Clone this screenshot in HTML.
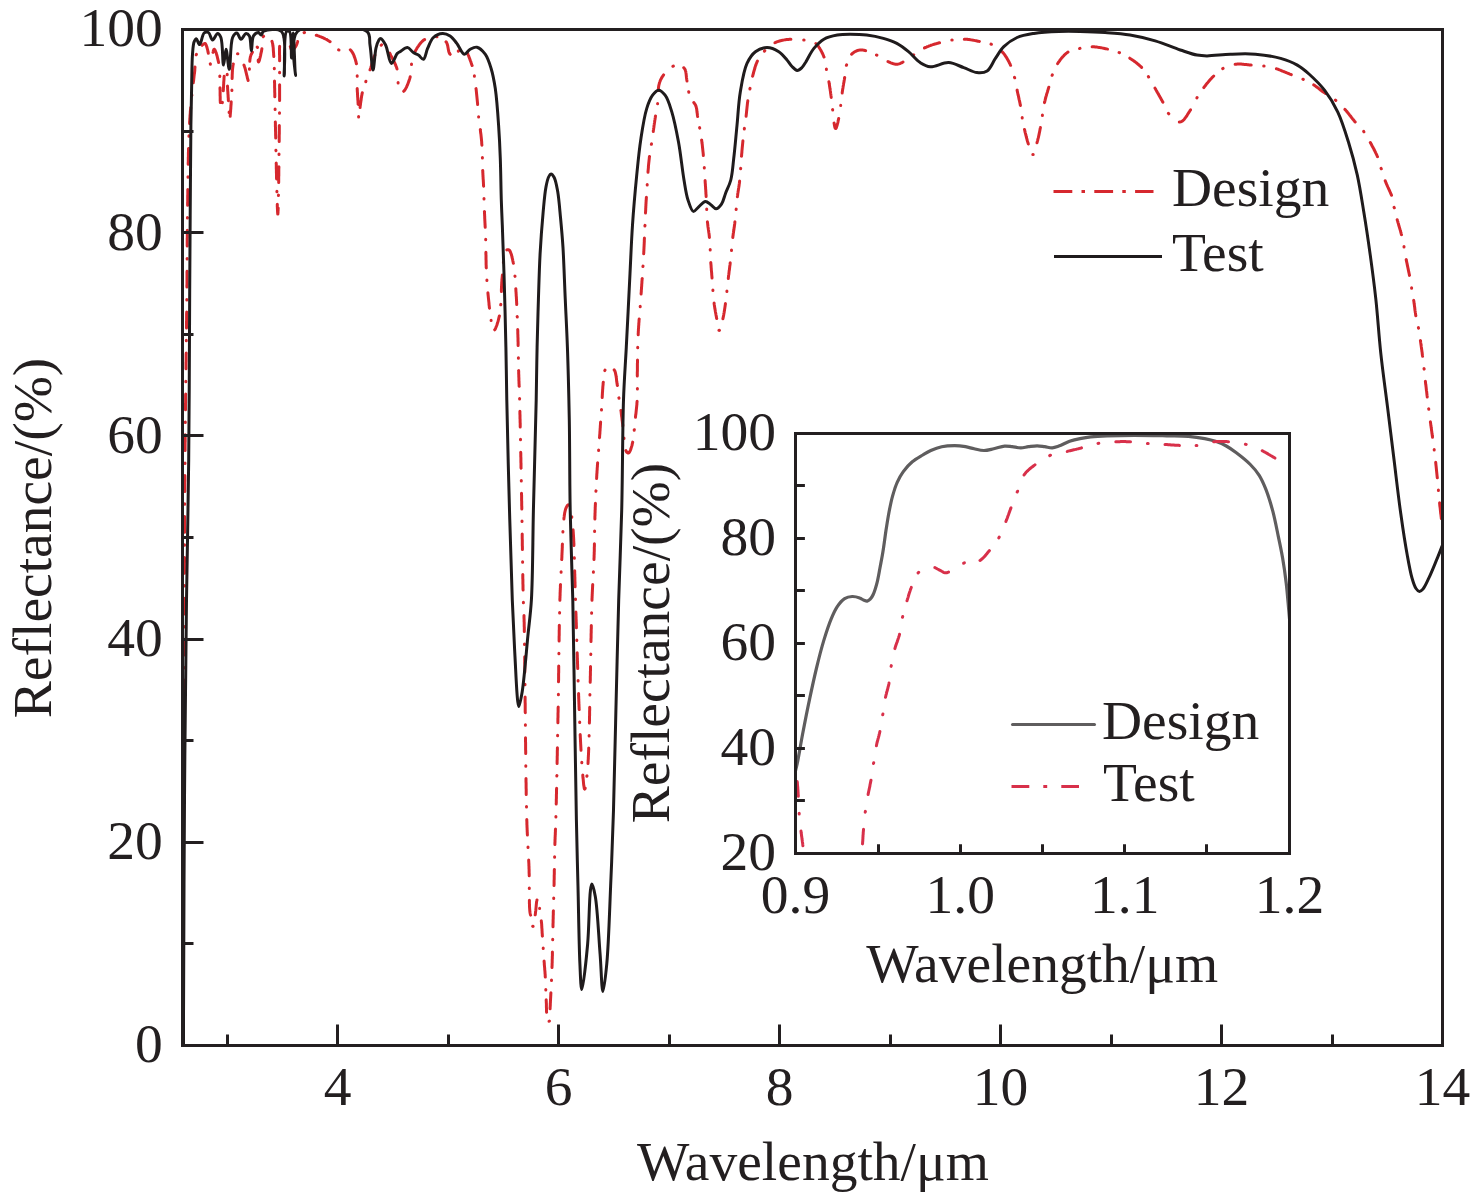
<!DOCTYPE html><html><head><meta charset="utf-8"><style>html,body{margin:0;padding:0;background:#fff;overflow:hidden}svg{display:block}</style></head><body>
<svg width="1476" height="1197" viewBox="0 0 1476 1197">
<rect width="1476" height="1197" fill="#fff"/>
<defs><clipPath id="cm"><rect x="182.5" y="29.5" width="1260" height="1016"/></clipPath>
<clipPath id="ci"><rect x="795.5" y="433.5" width="494" height="420"/></clipPath></defs>
<g clip-path="url(#cm)" fill="none" stroke-linejoin="round" stroke-linecap="round">
<path d="M183.0 1036.0 183.0 1035.9 183.0 1035.6 183.0 1035.5M183.1 1023.1 183.1 1022.8 183.1 1022.1 183.1 1021.4 183.1 1020.7 183.1 1019.9 183.1 1019.2 183.1 1018.5 183.1 1017.7 183.1 1017.0 183.1 1016.2 183.1 1015.5 183.1 1014.7 183.1 1013.9 183.1 1013.2 183.1 1012.4 183.1 1011.6 183.1 1010.8 183.1 1010.0 183.1 1009.2 183.1 1008.4 183.1 1007.6 183.1 1007.3M183.1 995.1 183.1 995.0 183.1 994.6M183.2 982.2 183.2 981.9 183.2 981.0 183.2 980.0 183.2 979.1 183.2 978.1 183.2 977.2 183.2 976.2 183.2 975.3 183.2 974.3 183.2 973.4 183.2 972.4 183.2 971.4 183.2 970.5 183.2 969.5 183.2 968.5 183.2 967.5 183.2 966.5 183.2 966.4M183.2 954.2 183.2 953.9 183.2 953.7M183.3 941.3 183.3 940.9 183.3 939.8 183.3 938.7 183.3 937.7 183.3 936.6 183.3 935.5 183.3 934.5 183.3 933.4 183.3 932.3 183.3 931.2 183.3 930.1 183.3 929.1 183.3 928.0 183.3 926.9 183.3 925.8 183.3 925.5M183.4 913.3 183.4 913.1 183.4 912.8M183.4 900.4 183.4 900.1 183.4 899.0 183.4 897.9 183.4 896.7 183.4 895.6 183.4 894.4 183.4 893.3 183.4 892.2 183.4 891.0 183.4 889.9 183.4 888.7 183.4 887.6 183.4 886.4 183.4 885.3 183.4 884.6M183.5 872.4 183.5 872.0 183.5 871.9M183.5 859.5 183.5 859.2 183.5 858.0 183.5 856.8 183.5 855.7 183.5 854.5 183.5 853.3 183.5 852.2 183.5 851.0 183.5 849.8 183.5 848.7 183.5 847.5 183.5 846.3 183.6 845.2 183.6 844.0 183.6 843.7M183.6 831.5 183.6 831.1 183.6 831.0M183.6 818.6 183.6 818.3 183.6 817.1 183.6 816.0 183.6 814.8 183.6 813.7 183.6 812.5 183.6 811.3 183.7 810.2 183.7 809.0 183.7 807.9 183.7 806.7 183.7 805.6 183.7 804.4 183.7 803.3 183.7 802.8M183.7 790.6 183.7 790.1M183.7 777.7 183.7 777.7 183.8 776.5 183.8 775.4 183.8 774.3 183.8 773.2 183.8 772.1 183.8 771.0 183.8 769.9 183.8 768.8 183.8 767.6 183.8 766.5 183.8 765.4 183.8 764.3 183.8 763.2 183.8 762.1 183.8 761.9M183.8 749.7 183.8 749.7 183.8 749.2M183.9 736.8 183.9 736.6 183.9 735.5 183.9 734.5 183.9 733.5 183.9 732.4 183.9 731.4 183.9 730.4 183.9 729.4 183.9 728.4 183.9 727.4 183.9 726.4 183.9 725.4 183.9 724.4 183.9 723.4 183.9 722.4 183.9 721.4 183.9 721.0M184.0 708.8 184.0 708.8 184.0 708.3M184.0 695.9 184.0 695.7 184.0 694.6 184.0 693.5 184.0 692.4 184.0 691.3 184.0 690.2 184.0 689.2 184.0 688.1 184.0 687.0 184.0 685.9 184.1 684.8 184.1 683.8 184.1 682.7 184.1 681.6 184.1 680.5 184.1 680.1M184.1 667.9 184.1 667.7 184.1 667.4M184.1 655.0 184.1 655.0 184.2 653.9 184.2 652.9 184.2 651.8 184.2 650.8 184.2 649.7 184.2 648.7 184.2 647.6 184.2 646.6 184.2 645.5 184.2 644.5 184.2 643.4 184.2 642.4 184.2 641.3 184.2 640.3 184.2 639.2M184.2 627.0 184.2 626.8 184.2 626.5M184.3 614.1 184.3 613.9 184.3 612.9 184.3 611.8 184.3 610.8 184.3 609.8 184.3 608.8 184.3 607.7 184.3 606.7 184.3 605.7 184.3 604.7 184.3 603.7 184.3 602.7 184.3 601.6 184.3 600.6 184.3 599.6 184.3 598.6 184.3 598.3M184.4 586.1 184.4 586.0 184.4 585.6M184.4 573.2 184.4 573.0 184.4 572.0 184.4 571.0 184.4 570.0 184.4 569.0 184.4 568.0 184.4 567.0 184.4 566.0 184.4 565.0 184.4 564.0 184.4 563.0 184.5 562.1 184.5 561.1 184.5 560.1 184.5 559.1 184.5 558.1 184.5 557.4M184.5 545.2 184.5 544.9 184.5 544.7M184.6 532.3 184.6 532.3 184.6 531.3 184.6 530.3 184.6 529.4 184.6 528.4 184.6 527.5 184.6 526.5 184.6 525.5 184.6 524.6 184.6 523.6 184.6 522.7 184.6 521.7 184.6 520.7 184.6 519.8 184.6 518.8 184.6 517.9 184.6 516.9 184.6 516.5M184.7 504.3 184.7 504.1 184.7 503.8M184.8 491.4 184.8 491.4 184.8 490.5 184.8 489.5 184.8 488.6 184.8 487.7 184.8 486.7 184.8 485.8 184.8 484.9 184.8 483.9 184.8 483.0 184.8 482.1 184.9 481.2 184.9 480.2 184.9 479.3 184.9 478.4 184.9 477.5 184.9 476.5 184.9 475.6M185.0 463.5 185.0 463.2 185.0 463.0M185.1 450.6 185.1 450.2 185.1 449.2 185.1 448.1 185.1 447.0 185.1 445.9 185.1 444.8 185.1 443.7 185.1 442.7 185.2 441.6 185.2 440.5 185.2 439.4 185.2 438.3 185.2 437.2 185.2 436.1 185.2 435.1 185.2 434.8M185.3 422.6 185.3 422.1 185.3 422.1M185.5 409.7 185.5 409.2 185.5 408.1 185.5 407.0 185.5 406.0 185.5 404.9 185.5 403.8 185.6 402.7 185.6 401.7 185.6 400.6 185.6 399.6 185.6 398.5 185.6 397.4 185.6 396.4 185.6 395.3 185.7 394.2 185.7 393.9M185.8 381.7 185.8 381.6 185.8 381.2M186.0 368.8 186.0 368.7 186.0 367.7 186.0 366.6 186.0 365.6 186.0 364.6 186.0 363.6 186.0 362.6 186.1 361.6 186.1 360.6 186.1 359.5 186.1 358.5 186.1 357.5 186.1 356.5 186.1 355.5 186.1 354.5 186.2 353.5 186.2 353.0M186.3 340.8 186.3 340.7 186.3 340.3 186.3 340.3M186.5 327.9 186.5 327.4 186.5 326.5 186.5 325.6 186.5 324.6 186.5 323.7 186.5 322.8 186.5 321.9 186.6 320.9 186.6 320.0 186.6 319.1 186.6 318.2 186.6 317.3 186.6 316.4 186.6 315.5 186.6 314.6 186.6 313.7 186.7 312.8 186.7 312.1M186.8 299.9 186.8 299.8 186.8 299.4 186.8 299.4M186.9 287.0 186.9 286.5 186.9 285.3 187.0 284.2 187.0 283.0 187.0 281.9 187.0 280.8 187.0 279.7 187.0 278.6 187.0 277.5 187.0 276.4 187.0 275.4 187.0 274.3 187.0 273.2 187.0 272.2 187.1 271.2M187.1 259.0 187.1 258.7 187.1 258.5M187.2 246.1 187.2 245.9 187.2 245.0 187.2 244.1 187.2 243.1 187.2 242.2 187.2 241.3 187.2 240.4 187.2 239.4 187.2 238.5 187.3 237.6 187.3 236.6 187.3 235.7 187.3 234.8 187.3 233.8 187.3 232.9 187.3 232.0 187.3 231.0 187.3 230.3M187.4 218.1 187.4 218.0 187.5 217.6M187.6 205.2 187.6 205.0 187.6 204.0 187.6 203.0 187.7 202.0 187.7 200.9 187.7 199.9 187.7 198.8 187.7 197.8 187.7 196.7 187.7 195.7 187.8 194.6 187.8 193.6 187.8 192.5 187.8 191.5 187.8 190.4 187.8 189.4M188.0 177.2 188.0 177.0 188.0 176.7M188.2 164.3 188.2 163.8 188.2 162.8 188.3 161.8 188.3 160.7 188.3 159.7 188.3 158.7 188.3 157.7 188.4 156.7 188.4 155.6 188.4 154.6 188.4 153.7 188.4 152.7 188.5 151.7 188.5 150.7 188.5 149.7 188.5 148.8 188.6 148.5M188.9 136.3 188.9 136.1 189.0 135.8M189.6 123.4 189.6 123.1 189.6 122.0 189.7 120.9 189.8 119.9 189.8 118.8 189.9 117.8 190.0 116.8 190.0 115.8 190.1 114.8 190.2 113.8 190.3 112.9 190.3 111.9 190.4 111.0 190.5 110.0 190.6 109.1 190.7 108.2 190.7 107.6M191.8 95.5 191.9 95.2 191.9 95.0M193.3 82.7 193.3 82.6 193.4 81.6 193.6 80.6 193.7 79.7 193.8 78.7 193.9 77.8 194.0 76.8 194.1 75.9 194.2 75.0 194.3 74.1 194.5 73.1 194.6 72.2 194.7 71.3 194.8 70.2 194.8 69.1 194.9 68.0 195.0 67.0M196.2 54.8 196.3 54.6 196.4 54.4M202.1 45.3 202.2 45.2 202.9 44.6 203.8 43.9 204.6 43.4 205.2 43.5 205.5 43.9 205.9 44.5 206.2 45.2 206.6 46.2 206.9 47.2 207.2 48.3 207.5 49.5 207.8 50.7 208.0 51.9 208.3 53.1 208.3 53.2M210.3 63.8 210.4 64.0 210.4 64.3M213.0 52.4 213.1 52.1 213.3 51.0 213.6 50.1 213.9 49.4 214.2 49.2 214.4 49.3 214.7 49.6 215.0 50.1 215.3 50.8 215.7 51.7 216.0 52.6 216.4 53.7 216.7 54.8 217.1 56.0 217.4 57.3 217.7 58.6 218.0 59.8 218.3 61.1 218.6 62.3 218.6 62.4M219.8 75.9 219.8 76.1 219.8 76.4M220.0 87.8 220.0 88.0 220.0 89.1 220.1 90.2 220.1 91.3 220.1 92.4 220.1 93.4 220.1 94.5 220.1 95.6 220.2 96.6 220.2 97.6 220.2 98.6 220.2 99.6 220.2 100.5 220.3 101.4 220.3 102.2 220.3 102.4M222.3 102.7 222.4 102.4 222.4 102.2M223.3 90.8 223.3 90.6 223.4 89.5 223.4 88.4 223.5 87.3 223.6 86.1 223.6 84.9 223.7 83.8 223.7 82.6 223.8 81.5 223.9 80.3 224.0 79.2 224.0 78.2 224.1 77.2 224.2 76.2 224.2 76.2M227.2 74.2 227.2 74.2 227.2 74.7M227.5 86.1 227.5 86.4 227.6 87.5 227.6 88.5 227.7 89.4 227.7 90.4 227.8 91.4 227.9 92.4 227.9 93.4 228.0 94.4 228.1 95.5 228.1 96.5 228.2 97.6 228.3 98.6 228.3 99.7 228.4 100.7M229.1 111.9 229.1 112.4M230.2 116.3 230.2 115.7 230.3 114.5 230.4 113.2 230.5 112.0 230.6 111.2 230.6 110.4 230.7 109.6 230.8 108.7 230.8 107.8 230.9 106.9 230.9 106.0 231.0 105.0 231.1 104.0 231.1 103.0 231.2 102.0 231.2 101.7M231.9 90.5 231.9 90.1 231.9 90.0M232.1 78.6 232.1 78.1 232.2 77.0 232.2 76.0 232.2 74.9 232.3 73.8 232.3 72.8 232.4 71.8 232.4 70.8 232.5 69.8 232.6 68.8 232.7 67.9 232.8 67.0 232.9 66.1 233.0 65.3 233.2 64.5 233.3 64.0M237.5 53.8 237.5 53.8 237.7 53.8 237.9 53.8 237.9 53.8M243.9 64.9 243.9 65.0 244.3 66.0 244.6 66.9 245.0 68.0 245.3 69.1 245.6 70.3 245.9 71.6 246.2 72.8 246.5 74.1 246.8 75.3 247.1 76.4 247.3 77.5 247.5 78.5 247.8 79.3 248.0 80.0 248.1 80.5M249.4 69.2 249.4 69.0 249.4 68.8M249.8 61.3 249.8 61.0 249.9 60.0 250.0 59.0 250.2 58.1 250.3 57.1 250.6 56.2 250.8 55.4 251.2 54.5 251.7 53.5 252.3 52.5 252.4 52.2M257.1 47.1 257.2 47.1 257.3 47.2 257.5 47.4 257.5 47.4M258.2 59.9 258.2 60.0 258.2 60.9 258.3 61.6 258.4 61.9 258.6 62.0 258.8 61.7 259.0 61.3 259.2 60.7 259.5 59.9 259.7 58.9 260.0 57.9 260.3 56.7 260.6 55.5 260.8 54.2 261.1 52.9 261.4 51.7 261.6 50.4 261.8 49.3 261.9 48.8M263.2 36.6 263.4 36.4 263.6 36.2M272.0 41.4 272.1 41.6 272.3 42.3 272.5 43.2 272.7 44.0 272.8 45.0 272.9 45.9 273.1 46.9 273.2 47.9 273.3 48.9 273.3 49.9 273.4 51.0 273.5 52.1 273.6 53.2 273.6 54.2 273.7 55.3 273.8 56.4 273.8 56.5M274.3 68.3 274.3 68.5 274.3 68.8M274.5 81.1 274.5 81.4 274.5 82.3 274.6 83.2 274.6 84.1 274.6 84.9 274.6 85.8 274.6 86.7 274.6 87.6 274.7 88.5 274.7 89.4 274.7 90.3 274.7 91.2 274.7 92.1 274.8 93.0 274.8 93.9 274.8 94.9 274.8 95.8 274.8 96.7 274.8 96.8M275.1 109.0 275.1 109.3 275.1 109.5M275.3 122.0 275.3 122.0 275.4 122.9 275.4 123.8 275.4 124.7 275.4 125.7 275.4 126.6 275.5 127.6 275.5 128.6 275.5 129.7 275.5 130.8 275.6 131.8 275.6 132.9 275.6 134.1 275.6 135.2 275.7 136.4 275.7 137.5 275.7 137.9M275.9 150.2 276.0 150.7M276.2 163.1 276.2 163.3 276.3 164.6 276.3 166.0 276.3 167.3 276.3 168.6 276.4 170.0 276.4 171.3 276.4 172.6 276.5 173.9 276.5 175.2 276.5 176.5 276.5 177.8 276.6 179.0M276.9 191.3 276.9 191.8 276.9 191.8M277.3 204.3 277.3 204.6 277.3 205.4 277.3 206.1 277.3 206.9 277.4 207.6 277.4 208.3 277.4 208.9 277.5 209.5 277.5 210.1 277.5 210.6 277.5 211.1 277.6 211.6 277.6 212.0 277.6 212.4 277.6 212.7 277.7 213.1 277.7 213.3 277.7 213.5 277.7 213.7 277.7 213.9 277.8 213.9 277.8 214.0 277.8 214.0 277.8 213.9 277.9 213.9 277.9 213.7 277.9 213.5 277.9 213.3 277.9 213.0 278.0 212.7 278.0 212.4 278.0 212.0 278.0 211.6 278.0 211.1 278.1 210.6 278.1 210.0 278.1 209.5 278.1 208.9 278.2 208.2 278.2 207.9M278.4 195.6 278.4 195.5 278.5 195.1M278.7 182.6 278.7 182.1 278.7 180.8 278.7 179.5 278.7 178.2 278.7 177.0 278.8 175.7 278.8 174.3 278.8 173.0 278.8 171.7 278.8 170.4 278.8 169.1 278.9 167.7 278.9 166.7M279.0 154.4 279.0 154.4 279.0 153.9M279.2 141.5 279.2 140.9 279.2 139.7 279.2 138.5 279.2 137.3 279.2 136.1 279.2 135.0 279.3 133.9 279.3 132.8 279.3 131.7 279.3 130.6 279.3 129.5 279.3 128.5 279.3 127.5 279.3 126.5 279.3 125.6 279.3 125.6M279.5 113.3 279.5 113.0 279.5 112.8M279.6 100.5 279.6 100.2 279.6 99.3 279.6 98.4 279.6 97.4 279.6 96.5 279.6 95.6 279.6 94.7 279.6 93.8 279.6 92.9 279.6 92.0 279.6 91.1 279.6 90.2 279.6 89.3 279.6 88.4 279.6 87.5 279.6 86.6 279.6 85.8 279.6 84.9 279.6 84.8M279.6 72.8 279.6 72.5 279.6 72.3M279.6 60.8 279.6 60.6 279.6 59.7 279.6 58.6 279.6 57.5 279.6 56.4 279.6 55.3 279.5 54.3 279.5 53.2 279.5 52.2 279.5 51.1 279.5 50.1 279.5 49.2 279.5 48.2 279.6 47.3 279.6 46.4 279.6 46.2M284.1 37.1 284.1 37.1 284.6 37.2 284.6 37.2M290.3 46.6 290.4 46.9 290.7 47.9 291.0 48.8 291.4 49.5 291.8 49.9 292.3 50.0 293.0 49.7 293.7 49.1 294.4 48.3 295.1 47.4 295.7 46.4 296.2 45.6 296.6 44.8 296.9 44.0 297.2 43.0 297.5 42.1 297.6 41.5M304.1 32.7 304.3 32.6 304.5 32.5M316.2 35.2 316.4 35.2 317.3 35.5 318.2 35.9 319.1 36.2 320.0 36.6 321.0 36.9 321.9 37.3 322.8 37.7 323.7 38.1 324.7 38.6 325.5 39.0 326.4 39.4 327.3 39.9 328.1 40.4 328.9 40.9 329.7 41.4 330.1 41.7M338.6 49.9 338.8 50.0 339.0 50.0M350.3 49.8 350.5 50.0 351.0 50.5 351.5 51.1 352.0 51.8 352.5 52.6 352.9 53.4 353.4 54.2 353.8 55.1 354.1 56.1 354.5 57.1 354.9 58.1 355.2 59.1 355.5 60.2 355.8 61.3 356.1 62.3 356.3 63.4 356.4 63.8M357.2 75.7 357.2 75.9 357.2 76.2M357.2 88.6 357.2 89.0 357.3 90.1 357.3 91.2 357.4 92.2 357.5 93.3 357.5 94.3 357.6 95.4 357.6 96.4 357.7 97.4 357.8 98.4 357.8 99.4 357.9 100.4 358.0 101.4 358.0 102.3 358.1 103.3 358.1 104.2 358.2 104.3M358.6 116.5 358.6 116.8 358.6 117.0M360.1 107.4 360.1 107.3 360.2 106.1 360.4 105.0 360.5 104.0 360.6 103.0 360.8 102.0 360.9 101.0 361.1 100.1 361.2 99.1 361.3 98.1 361.5 97.2 361.6 96.2 361.8 95.3 362.0 94.3 362.2 93.4 362.3 92.7M365.8 81.7 365.8 81.5 365.9 81.2M370.0 69.8 370.2 69.4 370.5 68.5 370.8 67.6 371.1 66.6 371.4 65.7 371.7 64.7 372.0 63.8 372.2 62.8 372.5 61.9 372.8 60.9 373.1 60.0 373.4 59.0 373.7 58.1 374.1 57.2 374.4 56.3 374.8 55.4 374.9 55.2M381.2 45.2 381.4 45.0 381.6 44.8M389.7 53.2 389.9 53.5 390.4 54.5 390.8 55.4 391.3 56.3 391.7 57.1 392.2 58.0 392.7 58.9 393.1 59.8 393.6 60.7 394.0 61.7 394.5 62.6 394.9 63.5 395.4 64.5 395.7 65.4 396.1 66.3 396.5 67.3 396.8 68.2 397.0 69.0M398.1 82.5 398.1 82.7 398.1 82.9M403.7 91.3 404.0 91.0 404.4 90.6 404.8 90.0 405.3 89.4 405.7 88.6 406.1 87.8 406.6 86.9 407.0 85.9 407.5 84.9 407.9 83.8 408.3 82.7 408.7 81.6 409.1 80.6 409.4 79.5 409.8 78.4 410.1 77.4 410.2 76.8M411.5 64.5 411.5 64.3 411.5 64.1M414.9 51.9 415.0 51.7 415.4 50.9 415.9 50.0 416.4 49.2 416.9 48.3 417.4 47.5 418.0 46.6 418.6 45.8 419.2 44.9 419.8 44.1 420.5 43.3 421.1 42.5 421.8 41.8 422.5 41.1 423.2 40.5 423.9 39.9 424.6 39.4 424.7 39.4M436.6 36.7 436.8 36.7 437.0 36.7M446.0 41.8 446.3 42.0 446.7 42.8 447.1 43.8 447.4 44.8 447.7 45.8 447.9 47.0 448.1 48.1 448.3 49.2 448.5 50.3 448.7 51.3 449.0 52.2 449.3 53.0 449.7 53.7 450.1 54.2 450.2 54.3M458.3 51.1 458.5 50.9 458.7 50.8M467.2 52.8 467.2 52.8 467.7 53.8 468.1 54.8 468.6 55.8 469.0 56.9 469.4 58.0 469.8 59.1 470.2 60.2 470.6 61.3 471.0 62.3 471.3 63.3 471.6 64.2 471.9 65.1 472.1 65.5M474.4 75.8 474.4 76.0 474.4 76.2M476.0 88.6 476.1 89.0 476.2 89.9 476.3 90.9 476.4 91.8 476.5 92.8 476.6 93.8 476.7 94.8 476.8 95.9 476.9 96.9 477.0 97.9 477.1 98.9 477.2 99.9 477.3 100.9 477.4 101.9 477.5 102.9 477.6 103.8 477.6 104.4M478.6 116.7 478.6 116.9 478.6 117.1M480.3 129.4 480.3 129.5 480.4 130.4 480.5 131.3 480.6 132.3 480.7 133.2 480.9 134.1 481.0 135.1 481.1 136.1 481.2 137.0 481.3 138.0 481.4 139.0 481.5 140.0 481.6 141.1 481.7 142.1 481.7 143.2 481.8 144.2 481.9 145.2M482.4 157.4 482.4 157.6 482.4 157.9M482.7 170.4 482.7 170.4 482.8 171.5 482.8 172.5 482.9 173.6 482.9 174.6 483.0 175.5 483.0 176.5 483.1 177.4 483.1 178.4 483.2 179.3 483.3 180.3 483.3 181.2 483.4 182.2 483.4 183.2 483.5 184.2 483.5 185.2 483.6 186.2M484.0 198.5 484.0 198.8 484.0 199.0M484.4 211.4 484.4 211.5 484.5 212.4 484.5 213.4 484.6 214.4 484.6 215.3 484.7 216.3 484.7 217.3 484.7 218.2 484.8 219.2 484.8 220.2 484.9 221.1 484.9 222.1 485.0 223.1 485.0 224.0 485.1 225.0 485.1 226.0 485.2 227.0 485.2 227.2M485.7 239.3 485.7 239.6 485.7 239.8M485.9 252.2 485.9 252.3 485.9 253.4 485.9 254.4 486.0 255.4 486.0 256.4 486.0 257.4 486.0 258.5 486.0 259.5 486.1 260.5 486.1 261.5 486.1 262.5 486.1 263.6 486.1 264.6 486.2 265.6 486.2 266.6 486.2 267.6 486.3 267.9M486.9 280.0 486.9 280.3 486.9 280.5M487.9 292.7 487.9 292.9 488.0 293.9 488.1 294.9 488.2 295.9 488.3 296.9 488.4 297.8 488.5 298.8 488.6 299.7 488.7 300.6 488.8 301.6 488.9 302.4 489.0 303.3 489.0 304.2 489.1 305.0 489.2 305.8 489.3 306.6 489.4 307.8 489.5 308.2M491.1 320.2 491.1 320.4 491.1 320.6M494.7 329.8 494.8 329.7 495.2 329.1 495.5 328.4 495.9 327.5 496.3 326.5 496.7 325.5 497.1 324.4 497.4 323.2 497.8 322.0 498.2 320.7 498.5 319.5 498.8 318.2 499.1 317.0 499.4 316.0M500.7 304.8 500.8 304.6 500.8 304.3M501.4 291.5 501.4 291.3 501.4 290.2 501.4 289.2 501.5 288.1 501.5 287.0 501.6 286.0 501.6 285.0 501.7 283.9 501.7 282.9 501.8 281.9 501.9 280.9 501.9 280.0 502.0 279.0 502.1 278.1 502.2 277.2 502.3 276.1 502.4 275.1M503.4 262.4 503.4 262.4 503.4 261.9M506.8 249.9 507.2 249.8 508.1 249.7 509.0 250.0 509.4 250.3 509.8 250.8 510.2 251.4 510.5 252.2 510.8 253.0 511.2 254.0 511.5 255.0 511.8 256.1 512.0 257.2 512.3 258.4 512.6 259.6 512.8 260.8 513.1 261.9 513.3 262.9 513.4 263.3M514.9 275.9 514.9 276.1 515.0 276.4M515.8 288.7 515.8 288.7 515.9 289.8 515.9 290.8 516.0 291.9 516.1 292.8 516.1 293.7 516.2 294.7 516.2 295.6 516.3 296.5 516.4 297.5 516.4 298.4 516.5 299.4 516.5 300.4 516.6 301.3 516.6 302.3 516.7 303.3 516.7 304.3 516.7 304.4M517.2 316.6 517.3 316.8 517.3 317.1M517.7 329.5 517.7 329.9 517.8 330.9 517.8 331.9 517.8 332.9 517.8 333.9 517.9 334.9 517.9 335.9 517.9 336.9 518.0 338.0 518.0 339.0 518.0 340.0 518.0 341.0 518.1 342.0 518.1 343.1 518.1 344.1 518.1 345.1 518.1 345.4M518.4 357.7 518.4 357.9 518.4 358.2M518.6 370.6 518.7 371.0 518.7 371.9 518.7 372.8 518.7 373.9 518.8 374.9 518.8 375.9 518.8 376.9 518.9 377.9 518.9 378.8 518.9 379.7 518.9 380.6 519.0 381.5 519.0 382.4 519.0 383.3 519.1 384.2 519.1 385.1 519.1 386.0 519.2 386.3M519.6 398.5 519.6 398.7 519.6 399.0M519.9 411.3 519.9 411.4 519.9 412.2 519.9 413.1 519.9 414.0 520.0 414.9 520.0 415.8 520.0 416.7 520.0 417.6 520.0 418.5 520.1 419.4 520.1 420.4 520.1 421.3 520.1 422.3 520.2 423.2 520.2 424.2 520.2 425.2 520.2 426.2 520.2 427.1M520.5 439.2 520.5 439.4 520.5 439.7M520.7 452.2 520.7 452.3 520.8 453.4 520.8 454.5 520.8 455.6 520.8 456.7 520.9 457.8 520.9 458.9 520.9 460.0 520.9 461.1 520.9 462.2 521.0 463.3 521.0 464.4 521.0 465.5 521.0 466.6 521.0 467.7 521.1 468.2M521.3 480.5 521.3 480.8 521.3 481.0M521.5 493.3 521.5 493.3 521.5 494.3 521.6 495.3 521.6 496.3 521.6 497.3 521.6 498.3 521.6 499.3 521.6 500.3 521.7 501.3 521.7 502.4 521.7 503.4 521.7 504.5 521.7 505.5 521.8 506.6 521.8 507.6 521.8 508.7 521.8 509.0M522.0 521.1 522.0 521.3 522.0 521.6M522.2 533.9 522.2 534.2 522.2 535.4 522.2 536.5 522.2 537.6 522.2 538.8 522.3 539.9 522.3 541.0 522.3 542.1 522.3 543.3 522.3 544.4 522.3 545.5 522.4 546.6 522.4 547.7 522.4 548.8 522.4 549.5M522.6 561.7 522.6 561.9 522.6 562.2M522.8 574.5 522.8 574.7 522.8 575.6 522.8 576.6 522.8 577.5 522.8 578.5 522.9 579.4 522.9 580.3 522.9 581.2 522.9 582.2 522.9 583.0 522.9 583.9 523.0 584.8 523.0 585.7 523.0 586.5 523.0 587.4 523.0 588.2 523.0 589.0 523.1 589.8 523.1 590.1M523.4 602.2 523.4 602.5 523.4 602.7M524.0 615.4 524.0 615.6 524.0 616.7 524.0 617.9 524.1 619.3 524.1 620.2 524.1 620.7 524.1 621.2 524.1 621.8 524.2 622.3 524.2 622.8 524.2 623.4 524.2 624.0 524.2 624.6 524.2 625.2 524.2 625.8 524.2 626.4 524.3 627.0 524.3 627.7 524.3 628.3 524.3 629.0 524.3 629.7 524.3 630.4 524.3 631.1 524.3 631.6M524.5 644.0 524.5 644.3 524.5 644.5M524.7 656.7 524.7 657.0 524.7 658.0 524.7 659.0 524.7 660.0 524.7 661.0 524.7 662.1 524.7 663.1 524.8 664.1 524.8 665.2 524.8 666.2 524.8 667.3 524.8 668.4 524.8 669.4 524.8 670.5 524.8 671.6 524.8 672.2M525.0 684.2 525.0 684.5 525.0 684.7M525.1 697.0 525.1 697.3 525.1 698.5 525.1 699.7 525.1 700.9 525.1 702.1 525.2 703.3 525.2 704.5 525.2 705.7 525.2 706.9 525.2 708.1 525.2 709.3 525.2 710.5 525.2 711.7 525.3 712.7M525.4 724.8 525.4 725.0 525.4 725.3M525.5 737.7 525.5 737.8 525.5 739.0 525.5 740.2 525.5 741.4 525.6 742.6 525.6 743.8 525.6 745.0 525.6 746.2 525.6 747.4 525.6 748.6 525.6 749.7 525.7 750.9 525.7 752.1 525.7 753.3 525.7 753.5M525.8 765.8 525.8 766.0 525.8 766.3M526.0 778.6 526.0 778.7 526.0 779.8 526.0 780.9 526.0 781.9 526.1 783.0 526.1 784.0 526.1 785.1 526.1 786.1 526.1 787.1 526.1 788.2 526.2 789.2 526.2 790.2 526.2 791.2 526.2 792.1 526.2 793.1 526.2 794.1 526.2 794.4M526.5 806.6 526.5 806.8 526.5 807.1M526.8 819.4 526.8 819.7 526.8 820.7 526.9 822.0 526.9 823.2 526.9 824.5 527.0 825.7 527.0 826.9 527.1 828.1 527.1 829.3 527.2 830.4 527.2 831.5 527.3 832.6 527.3 833.7 527.4 834.8 527.4 835.0M528.0 847.1 528.0 847.3 528.0 847.6M528.7 860.0 528.7 860.1 528.7 861.0 528.8 862.0 528.8 862.9 528.9 863.8 528.9 864.7 528.9 865.7 529.0 866.6 529.0 867.6 529.0 868.6 529.1 869.7 529.1 870.7 529.1 871.8 529.1 872.9 529.2 874.0 529.2 875.1 529.2 875.8M529.3 888.0 529.3 888.3 529.3 888.5M529.4 900.2 529.4 900.7 529.4 901.6 529.4 902.6 529.4 903.5 529.5 904.4 529.5 905.3 529.5 906.1 529.5 906.9 529.6 907.7 529.6 908.4 529.7 909.1 529.7 909.8 529.8 910.4 529.8 911.0 529.9 911.5 530.0 912.5 530.2 913.6 530.4 914.4 530.6 915.1M532.7 926.3 532.8 926.4 532.9 926.5 533.0 926.5 533.1 926.4 533.1 926.3M535.2 914.8 535.3 914.6 535.4 913.6 535.5 912.6 535.6 911.5 535.8 910.4 535.9 909.2 536.0 908.0 536.1 906.9 536.2 905.8 536.3 904.7 536.4 903.7 536.5 902.7 536.6 901.8 536.7 901.1 536.9 900.4 537.0 899.9M539.6 908.2 539.6 908.4 539.6 908.6M541.3 920.7 541.3 920.9 541.4 921.8 541.5 922.7 541.6 923.6 541.7 924.6 541.7 925.5 541.8 926.5 541.8 927.5 541.9 928.4 542.0 929.4 542.0 930.4 542.1 931.4 542.1 932.5 542.2 933.5 542.3 934.6 542.3 935.7 542.4 936.1M543.2 948.0 543.2 948.3 543.2 948.5M544.1 961.1 544.1 961.5 544.2 962.4 544.3 963.3 544.3 964.3 544.4 965.4 544.5 966.4 544.6 967.4 544.7 968.4 544.7 969.3 544.8 970.2 544.9 971.1 545.0 972.0 545.0 973.0 545.1 973.9 545.2 974.9 545.2 976.0 545.3 977.1 545.3 977.1M545.8 989.5 545.8 989.8 545.8 990.0M546.2 999.8 546.2 999.9 546.2 1000.8 546.3 1001.7 546.3 1002.7 546.4 1003.8 546.4 1004.9 546.4 1006.0 546.4 1007.2 546.5 1008.3 546.5 1009.4 546.5 1010.4 546.5 1011.5 546.6 1012.2M549.0 1021.2 549.0 1021.3 549.2 1021.3 549.3 1021.2 549.4 1021.1 549.4 1021.1M550.1 1008.7 550.1 1008.5 550.1 1007.5 550.2 1006.8 550.2 1006.0 550.3 1005.2 550.3 1004.4 550.3 1003.5 550.4 1002.7 550.4 1001.8 550.5 1000.9 550.5 999.9 550.6 999.0 550.6 998.0 550.7 997.1 550.7 996.1 550.8 995.1 550.8 994.1 550.9 993.0 550.9 992.8M551.5 980.5 551.5 980.2 551.5 980.0M552.0 967.6 552.0 967.5 552.0 966.5 552.1 965.5 552.1 964.5 552.1 963.6 552.2 962.6 552.2 961.6 552.2 960.6 552.2 959.6 552.3 958.6 552.3 957.6 552.3 956.6 552.4 955.6 552.4 954.6 552.4 953.6 552.4 952.6 552.4 952.0M552.7 939.8 552.7 939.6 552.7 939.3M553.0 926.8 553.0 926.8 553.0 925.8 553.0 924.8 553.0 923.8 553.1 922.8 553.1 921.8 553.1 920.8 553.1 919.8 553.2 918.8 553.2 917.8 553.2 916.8 553.2 915.8 553.3 914.9 553.3 913.9 553.3 912.9 553.3 911.9 553.4 910.9 553.4 910.8M553.7 898.5 553.7 898.2 553.7 898.0M554.0 885.5 554.0 885.3 554.1 884.4 554.1 883.4 554.1 882.4 554.1 881.4 554.1 880.4 554.2 879.4 554.2 878.3 554.2 877.3 554.2 876.3 554.2 875.3 554.3 874.3 554.3 873.2 554.3 872.2 554.3 871.2 554.3 870.2 554.4 869.5M554.6 857.2 554.6 856.9 554.6 856.7M554.9 844.5 554.9 844.1 554.9 843.0 555.0 842.0 555.0 841.0 555.0 840.0 555.1 839.0 555.1 838.1 555.1 837.2 555.2 836.3 555.2 835.4 555.3 834.5 555.3 833.6 555.3 832.7 555.4 831.9 555.4 831.0 555.4 830.1 555.5 829.2 555.5 828.9M555.9 816.9 555.9 816.7 555.9 816.5M556.2 804.1 556.2 803.7 556.3 802.8 556.3 801.9 556.3 801.1 556.3 800.2 556.3 799.3 556.4 798.4 556.4 797.5 556.4 796.6 556.4 795.7 556.4 794.7 556.5 793.8 556.5 792.8 556.5 791.9 556.5 790.9 556.5 790.0 556.6 789.0 556.6 788.3M556.8 776.1 556.8 775.8 556.9 775.6M557.1 763.4 557.1 763.0 557.1 761.9 557.1 760.8 557.2 759.7 557.2 758.6 557.2 757.5 557.2 756.5 557.3 755.4 557.3 754.3 557.3 753.2 557.3 752.1 557.3 751.0 557.4 749.9 557.4 748.8 557.4 747.8M557.6 735.8 557.6 735.6 557.6 735.3M557.9 722.8 557.9 722.6 557.9 721.6 557.9 720.5 557.9 719.4 557.9 718.4 558.0 717.4 558.0 716.3 558.0 715.3 558.0 714.3 558.0 713.2 558.1 712.2 558.1 711.2 558.1 710.2 558.1 709.2 558.1 708.2 558.2 707.2 558.2 706.9M558.4 694.7 558.4 694.4 558.4 694.2M558.5 681.7 558.5 681.2 558.6 680.1 558.6 679.1 558.6 678.0 558.6 676.9 558.6 675.9 558.6 674.8 558.6 673.7 558.7 672.6 558.7 671.6 558.7 670.5 558.7 669.4 558.7 668.4 558.7 667.3 558.7 666.2 558.7 665.9M558.9 653.7 558.9 653.4 558.9 653.2M559.1 640.9 559.1 640.4 559.1 639.3 559.1 638.3 559.1 637.3 559.1 636.3 559.2 635.3 559.2 634.3 559.2 633.3 559.2 632.3 559.2 631.3 559.2 630.3 559.3 629.3 559.3 628.3 559.3 627.3 559.3 626.4 559.3 625.4 559.3 625.2M559.6 613.1 559.6 612.9 559.6 612.6M559.9 600.2 559.9 600.0 559.9 598.8 560.0 597.6 560.0 596.4 560.1 595.3 560.1 594.1 560.1 593.0 560.2 591.9 560.2 590.8 560.3 589.7 560.3 588.6 560.4 587.6 560.4 586.5 560.4 585.5 560.5 584.5 560.5 584.4M561.1 572.2 561.1 572.0 561.1 571.8M561.7 559.6 561.8 559.1 561.8 558.2 561.9 557.2 561.9 556.3 561.9 555.3 562.0 554.2 562.0 553.1 562.1 552.1 562.1 551.0 562.2 549.9 562.2 548.8 562.3 547.7 562.3 546.7 562.3 545.6 562.4 544.5 562.4 544.0M562.9 532.0 562.9 531.8 562.9 531.5M563.9 519.1 563.9 518.9 564.0 517.7 564.2 516.5 564.3 515.4 564.5 514.4 564.6 513.3 564.8 512.4 565.0 511.5 565.2 510.6 565.4 509.8 565.6 509.0 565.9 508.3 566.3 507.4 566.9 506.3 567.5 505.4 568.1 504.8 568.6 504.9 568.8 505.0M571.8 516.8 571.8 516.9 571.8 517.3M573.1 529.7 573.1 529.7 573.1 530.4 573.2 531.2 573.2 531.9 573.3 532.6 573.3 533.4 573.4 534.2 573.4 535.0 573.5 535.8 573.5 536.6 573.6 537.4 573.6 538.2 573.7 539.1 573.7 539.9 573.7 540.8 573.8 541.7 573.8 542.6 573.9 543.5 573.9 544.4 573.9 545.3 573.9 545.6M574.3 557.8 574.4 558.2 574.4 558.3M574.7 570.8 574.7 571.0 574.7 572.1 574.7 573.2 574.8 574.3 574.8 575.4 574.8 576.5 574.9 577.6 574.9 578.7 574.9 579.9 574.9 581.0 575.0 582.1 575.0 583.2 575.0 584.3 575.1 585.5 575.1 586.6 575.1 586.7M575.5 598.9 575.5 599.4M575.9 611.9 575.9 612.1 575.9 613.1 576.0 614.0 576.0 615.0 576.0 616.0 576.1 617.0 576.1 618.0 576.1 619.0 576.2 620.0 576.2 621.0 576.2 622.0 576.3 623.0 576.3 624.1 576.3 625.1 576.4 626.1 576.4 627.1 576.4 627.7M576.8 640.0 576.8 640.2 576.8 640.5M577.2 652.8 577.2 653.0 577.2 654.1 577.3 655.2 577.3 656.2 577.3 657.3 577.4 658.4 577.4 659.4 577.4 660.5 577.5 661.6 577.5 662.6 577.5 663.7 577.6 664.7 577.6 665.8 577.6 666.9 577.7 667.9 577.7 668.5M578.1 680.6 578.1 680.8 578.1 681.1M578.6 693.6 578.6 693.7 578.6 694.6 578.6 695.6 578.7 696.5 578.7 697.4 578.7 698.4 578.8 699.3 578.8 700.2 578.8 701.1 578.9 702.0 578.9 702.9 578.9 703.8 579.0 704.7 579.0 705.5 579.0 706.4 579.1 707.3 579.1 708.1 579.1 709.0 579.2 709.6M579.7 721.9 579.7 722.1 579.7 722.4M580.2 734.6 580.2 735.0 580.3 736.0 580.3 737.1 580.4 738.1 580.4 739.1 580.5 740.1 580.5 741.1 580.6 742.1 580.6 743.1 580.7 744.1 580.7 745.0 580.8 746.0 580.8 747.0 580.9 747.9 580.9 748.9 581.0 749.8 581.0 750.2M581.8 762.2 581.8 762.5 581.8 762.7M582.8 774.9 582.8 775.5 582.9 776.8 583.0 778.1 583.2 779.3 583.3 780.6 583.4 781.7 583.5 782.8 583.6 783.8 583.7 784.8 583.8 785.7 584.0 786.5 584.1 787.2 584.2 787.9 584.3 788.4 584.4 788.8 584.5 789.0 584.6 789.2 584.8 789.2 585.0 788.8 585.2 788.2M586.9 776.3 587.0 776.0 587.0 775.8M588.0 763.6 588.0 763.3 588.1 762.1 588.1 761.0 588.2 759.8 588.3 758.6 588.3 757.4 588.4 756.1 588.4 755.4 588.5 754.6 588.5 753.9 588.5 753.1 588.6 752.3 588.6 751.5 588.6 750.7 588.7 749.9 588.7 749.0 588.7 748.2 588.7 748.0M589.1 736.0 589.1 735.8 589.1 735.5M589.4 723.1 589.4 723.0 589.4 721.9 589.5 720.9 589.5 719.8 589.5 718.7 589.5 717.6 589.5 716.6 589.6 715.5 589.6 714.4 589.6 713.3 589.6 712.2 589.6 711.2 589.7 710.1 589.7 709.0 589.7 707.9 589.7 707.3M589.9 695.1 589.9 694.8 589.9 694.6M590.2 682.3 590.2 682.2 590.2 681.2 590.3 680.3 590.3 679.3 590.3 678.3 590.3 677.3 590.3 676.3 590.4 675.3 590.4 674.3 590.4 673.3 590.4 672.3 590.4 671.3 590.5 670.3 590.5 669.2 590.5 668.2 590.5 667.2 590.5 666.6M590.8 654.4 590.8 654.2 590.8 653.9M591.0 641.4 591.0 641.1 591.0 640.0 591.0 639.0 591.1 637.9 591.1 636.9 591.1 635.9 591.1 634.8 591.1 633.8 591.2 632.8 591.2 631.7 591.2 630.7 591.2 629.7 591.3 628.7 591.3 627.7 591.3 626.6 591.3 625.6 591.3 625.5M591.6 613.2 591.6 613.0 591.6 612.7M592.0 600.3 592.0 600.0 592.0 598.9 592.1 597.7 592.1 596.6 592.2 595.5 592.2 594.4 592.3 593.3 592.3 592.3 592.4 591.2 592.4 590.2 592.5 589.1 592.5 588.1 592.6 587.1 592.6 586.1 592.7 585.0 592.7 584.5M593.4 572.3 593.4 572.0 593.4 571.8M594.0 559.4 594.0 559.2 594.0 558.3 594.1 557.3 594.1 556.3 594.1 555.3 594.2 554.3 594.2 553.3 594.2 552.3 594.3 551.3 594.3 550.3 594.3 549.3 594.3 548.3 594.3 547.3 594.4 546.3 594.4 545.3 594.4 544.3 594.4 543.7M594.6 531.6 594.6 531.3 594.6 531.1M594.9 518.9 594.9 518.4 594.9 517.4 594.9 516.5 595.0 515.5 595.0 514.5 595.0 513.5 595.1 512.5 595.1 511.5 595.1 510.5 595.2 509.5 595.2 508.5 595.2 507.5 595.3 506.5 595.3 505.5 595.4 504.5 595.4 503.5 595.4 503.3M595.9 491.3 595.9 491.1 596.0 490.8M596.6 478.4 596.6 478.3 596.7 477.4 596.7 476.4 596.8 475.4 596.8 474.5 596.9 473.5 597.0 472.5 597.0 471.5 597.1 470.4 597.2 469.4 597.2 468.4 597.3 467.4 597.4 466.4 597.4 465.3 597.5 464.3 597.6 463.3 597.6 462.7M598.6 450.5 598.6 450.2 598.6 450.0M599.5 437.7 599.6 437.3 599.6 436.3 599.7 435.2 599.8 434.2 599.9 433.2 599.9 432.1 600.0 431.1 600.1 430.1 600.1 429.1 600.2 428.1 600.3 427.1 600.3 426.2 600.4 425.2 600.5 424.2 600.5 423.2 600.6 422.3 600.6 422.0M601.5 409.9 601.5 409.7 601.5 409.4M602.2 397.5 602.2 397.2 602.3 396.2 602.3 395.2 602.4 394.1 602.4 393.1 602.5 392.1 602.6 391.1 602.6 390.1 602.7 389.1 602.8 388.1 602.8 387.2 602.9 386.3 603.0 385.4 603.1 384.5 603.1 383.6 603.2 382.8 603.3 382.2M604.8 370.6 604.9 370.3 605.0 370.1M614.2 369.9 614.3 370.0 614.7 370.7 615.0 371.4 615.3 372.3 615.5 373.1 615.7 374.1 615.9 375.1 616.1 376.1 616.2 377.1 616.4 378.2 616.5 379.3 616.6 380.3 616.7 381.4 616.9 382.4 617.0 383.4 617.2 384.4 617.3 385.4 617.4 385.5M618.9 397.8 619.0 398.1 619.0 398.3M620.9 410.5 620.9 410.5 621.1 411.5 621.2 412.4 621.3 413.3 621.4 414.3 621.5 415.2 621.6 416.1 621.8 417.1 621.9 418.1 622.0 419.1 622.1 420.1 622.3 421.1 622.4 422.2 622.5 423.3 622.7 424.3 622.8 425.2 622.8 426.0M623.9 438.0 623.9 438.1 624.0 438.5M625.9 450.6 626.0 450.8 626.2 451.3 626.6 452.0 627.4 452.7 628.1 453.0 628.7 452.9 629.2 452.5 629.6 451.9 630.0 451.1 630.5 450.1 630.9 449.0 631.2 447.8 631.6 446.6 631.9 445.7 632.1 445.0 632.2 444.2 632.4 443.5 632.6 442.6 632.7 442.1M634.2 430.2 634.2 429.9 634.3 429.7M635.5 417.2 635.5 417.0 635.6 415.9 635.7 414.9 635.9 413.9 636.0 412.9 636.1 411.9 636.2 410.9 636.3 409.9 636.4 409.0 636.5 408.0 636.6 407.1 636.7 406.2 636.8 405.2 636.9 404.3 636.9 403.3 637.0 402.4 637.1 401.4 637.1 401.3M637.4 389.0 637.4 388.7 637.4 388.5M637.3 376.0 637.3 375.7 637.3 374.8 637.3 373.9 637.3 373.1 637.3 372.2 637.4 371.2 637.4 370.3 637.4 369.4 637.4 368.4 637.4 367.5 637.4 366.5 637.4 365.5 637.4 364.5 637.4 363.5 637.5 362.5 637.5 361.5 637.5 360.5 637.5 360.0M637.7 347.7 637.7 347.5 637.7 347.2M638.2 334.8 638.2 334.7 638.2 333.7 638.3 332.7 638.3 331.7 638.4 330.7 638.4 329.7 638.5 328.7 638.6 327.7 638.6 326.7 638.7 325.7 638.8 324.7 638.8 323.7 638.9 322.7 639.0 321.8 639.0 320.8 639.1 319.8 639.2 319.0M640.2 306.8 640.2 306.6 640.2 306.3M641.1 294.1 641.1 293.7 641.2 292.7 641.3 291.7 641.3 290.7 641.4 289.7 641.5 288.7 641.5 287.8 641.6 286.8 641.7 285.8 641.7 284.8 641.8 283.8 641.9 282.8 641.9 281.8 642.0 280.8 642.1 279.8 642.1 278.8 642.2 278.6M642.9 266.6 642.9 266.3 643.0 266.1M643.7 253.7 643.7 253.3 643.8 252.3 643.8 251.3 643.9 250.3 643.9 249.3 644.0 248.2 644.0 247.2 644.1 246.1 644.1 245.1 644.2 244.0 644.2 243.0 644.3 241.9 644.3 240.9 644.3 239.8 644.4 238.8 644.4 238.1M644.9 225.9 644.9 225.7 645.0 225.4M645.5 213.0 645.5 212.6 645.6 211.8 645.6 211.0 645.7 209.8 645.7 208.7 645.8 207.7 645.8 206.6 645.9 205.6 645.9 204.7 646.0 203.7 646.0 202.8 646.1 201.9 646.1 201.0 646.2 200.0 646.3 199.1 646.3 198.2 646.4 197.3 646.4 197.2M647.2 185.0 647.2 185.0 647.2 184.5M648.0 172.2 648.0 171.8 648.1 170.7 648.2 169.7 648.3 168.6 648.4 167.6 648.4 166.6 648.5 165.6 648.6 164.6 648.7 163.6 648.8 162.7 648.9 161.8 649.0 160.8 649.1 160.0 649.2 159.1 649.3 158.1 649.4 157.0 649.5 156.4M651.4 144.3 651.5 144.1 651.5 143.8M653.3 131.6 653.3 131.2 653.4 130.2 653.6 129.2 653.7 128.2 653.9 127.2 654.0 126.2 654.1 125.2 654.3 124.2 654.4 123.2 654.6 122.2 654.7 121.3 654.8 120.4 655.0 119.5 655.1 118.6 655.3 117.5 655.4 116.5 655.5 115.9M657.6 103.8 657.6 103.6 657.6 103.4M658.3 90.4 658.3 89.9 658.4 88.9 658.5 87.9 658.6 87.0 658.7 86.0 658.9 85.1 659.1 84.3 659.3 83.5 659.6 82.5 660.0 81.5 660.3 80.5 660.7 79.6 661.2 78.8 661.6 77.9 662.1 77.1 662.6 76.3 663.1 75.6 663.6 74.9M672.9 66.3 673.1 66.2 673.4 66.1M683.7 67.7 683.9 67.8 684.5 68.6 685.0 69.3 685.3 70.1 685.5 70.9 685.8 71.8 685.9 72.7 686.1 73.8 686.2 74.8 686.3 75.9 686.4 76.9 686.5 78.0 686.7 79.0 686.8 80.0 687.0 81.0 687.0 81.1M688.7 91.7 688.8 92.0 688.8 92.2M693.8 102.5 693.9 102.7 694.5 103.4 695.0 104.2 695.5 105.0 695.8 105.9 696.1 106.7 696.3 107.5 696.5 108.3 696.7 109.2 696.8 110.2 696.9 111.1 697.0 112.1 697.2 113.1 697.3 114.2 697.4 115.2 697.6 116.3 697.6 116.4M699.6 127.6 699.6 127.8 699.7 128.1M701.6 140.1 701.6 140.2 701.8 141.1 701.9 142.0 702.0 143.1 702.2 144.1 702.3 145.1 702.4 146.1 702.5 147.1 702.6 148.0 702.7 149.0 702.8 149.9 702.9 150.8 703.0 151.8 703.1 152.7 703.2 153.7 703.3 154.6 703.3 155.5M704.3 167.4 704.3 167.6 704.3 167.9M705.1 180.5 705.1 180.8 705.2 181.7 705.2 182.7 705.3 183.7 705.4 184.7 705.4 185.7 705.5 186.7 705.6 187.6 705.6 188.6 705.7 189.5 705.8 190.4 705.8 191.3 705.9 192.3 705.9 193.3 706.0 194.4 706.1 195.4 706.1 196.4 706.1 196.5M706.7 208.9 706.7 209.2 706.7 209.4M707.4 221.8 707.4 222.0 707.6 223.1 707.7 224.1 707.8 225.1 707.9 226.0 708.0 227.0 708.2 227.9 708.3 228.8 708.4 229.7 708.6 230.7 708.7 231.6 708.8 232.5 709.0 233.5 709.1 234.4 709.2 235.4 709.3 236.4 709.4 237.4M710.2 249.6 710.2 249.9 710.2 250.1M710.8 262.4 710.8 262.8 710.9 263.9 711.0 264.9 711.1 265.9 711.1 266.9 711.2 267.8 711.3 268.8 711.3 269.7 711.4 270.7 711.5 271.6 711.6 272.5 711.7 273.5 711.7 274.4 711.8 275.4 711.9 276.4 712.0 277.4 712.0 278.0M712.9 290.1 712.9 290.3 712.9 290.6M714.1 302.9 714.1 303.1 714.2 304.2 714.4 305.2 714.5 306.3 714.7 307.3 714.8 308.3 715.0 309.3 715.2 310.3 715.3 311.2 715.5 312.2 715.7 313.2 715.9 314.1 716.0 315.0 716.2 315.9 716.4 316.9 716.5 317.8 716.7 318.5M719.0 330.4 719.1 330.5 719.2 330.5 719.3 330.5 719.4 330.4M722.9 318.8 722.9 318.7 723.1 317.8 723.3 316.9 723.5 316.0 723.7 315.0 723.8 314.1 724.0 313.2 724.2 312.2 724.3 311.2 724.5 310.3 724.6 309.3 724.8 308.3 724.9 307.3 725.1 306.3 725.2 305.2 725.4 304.2 725.4 303.5M726.9 291.6 726.9 291.3 726.9 291.1M728.3 278.6 728.3 278.5 728.4 277.4 728.5 276.4 728.6 275.4 728.8 274.5 728.9 273.5 729.0 272.6 729.1 271.7 729.2 270.7 729.4 269.8 729.5 268.9 729.6 267.9 729.7 267.0 729.8 266.0 730.0 265.0 730.1 264.0 730.2 262.9 730.2 262.7M731.5 250.4 731.5 250.1 731.5 249.9M732.8 237.5 732.8 237.5 732.9 236.4 733.1 235.4 733.2 234.4 733.3 233.4 733.5 232.5 733.6 231.5 733.7 230.6 733.9 229.7 734.0 228.8 734.1 227.9 734.3 226.9 734.4 226.0 734.5 225.0 734.7 223.9 734.8 222.8 734.9 221.9 734.9 221.8M736.1 209.6 736.1 209.4 736.2 209.1M737.4 196.7 737.4 196.4 737.6 195.5 737.7 194.4 737.8 193.4 738.0 192.5 738.1 191.5 738.3 190.6 738.4 189.8 738.5 188.9 738.7 188.0 738.8 187.1 739.0 186.2 739.1 185.3 739.2 184.3 739.4 183.2 739.5 182.1 739.6 181.3 739.6 181.0M740.6 168.8 740.6 168.6 740.7 168.3M741.5 156.2 741.6 155.9 741.6 154.9 741.7 154.0 741.8 153.0 741.9 152.1 741.9 151.3 742.0 150.4 742.1 149.3 742.2 148.2 742.3 147.1 742.4 146.1 742.5 145.1 742.6 144.1 742.7 143.1 742.8 142.2 742.9 141.2 742.9 140.8M744.3 128.9 744.3 128.7 744.4 128.4M746.1 116.3 746.1 116.2 746.2 115.3 746.3 114.3 746.4 113.3 746.5 112.3 746.6 111.4 746.7 110.5 746.8 109.5 746.9 108.6 747.0 107.7 747.1 106.7 747.2 105.8 747.3 104.8 747.4 103.8 747.5 102.8 747.7 101.8 747.8 100.8M749.9 88.9 749.9 88.6 750.0 88.4M752.6 76.2 752.7 76.0 752.9 75.1 753.2 74.0 753.5 73.0 753.7 72.0 754.0 71.0 754.3 70.0 754.6 69.0 754.9 68.0 755.1 67.1 755.4 66.1 755.8 65.2 756.1 64.3 756.4 63.4 756.8 62.6 757.1 61.7 757.4 61.1M764.4 51.1 764.6 50.9 764.8 50.7M774.9 42.7 775.0 42.7 775.8 42.3 776.7 41.9 777.6 41.6 778.6 41.3 779.5 41.0 780.5 40.7 781.5 40.5 782.5 40.3 783.5 40.1 784.5 39.9 785.6 39.7 786.6 39.6 787.6 39.5 788.6 39.4 789.5 39.3 790.5 39.2 790.9 39.2M803.7 40.0 803.9 40.0 804.1 40.0M815.9 43.5 816.0 43.6 816.6 44.2 817.3 44.9 817.9 45.7 818.5 46.5 819.0 47.3 819.6 48.2 820.1 49.1 820.7 50.0 821.2 50.9 821.7 51.9 822.1 52.8 822.6 53.7 823.0 54.6 823.4 55.5 823.7 56.4 824.0 57.0M826.4 69.1 826.4 69.3 826.4 69.5M828.9 81.8 828.9 81.8 829.1 82.7 829.2 83.6 829.4 84.5 829.5 85.5 829.6 86.4 829.8 87.3 829.9 88.3 830.1 89.2 830.2 90.2 830.4 91.2 830.5 92.1 830.6 93.2 830.8 94.2 830.9 95.2 831.1 96.3 831.2 97.4 831.2 97.4M832.6 109.6 832.7 109.9 832.7 110.1M834.1 123.1 834.2 123.3 834.3 124.3 834.4 125.2 834.6 126.0 834.7 126.7 834.9 127.3 835.0 127.8 835.2 128.2 835.4 128.4 835.5 128.6 835.7 128.6 836.0 128.3 836.3 127.9 836.5 127.2 836.8 126.3 837.1 125.3 837.4 124.2 837.7 123.1 838.0 121.8 838.2 120.6 838.5 119.3 838.7 118.4M840.7 105.6 840.7 105.4 840.7 105.2M842.2 92.9 842.2 92.8 842.3 91.9 842.5 90.8 842.6 89.8 842.8 88.7 843.0 87.7 843.1 86.7 843.3 85.7 843.5 84.7 843.6 83.8 843.8 82.8 844.0 81.9 844.1 80.9 844.3 80.0 844.4 79.1 844.6 78.2 844.7 77.4M846.4 65.3 846.5 65.1 846.6 64.9M851.6 54.2 851.7 54.1 852.4 53.5 853.2 52.9 854.0 52.3 854.8 51.8 855.7 51.3 856.6 50.9 857.6 50.5 858.5 50.3 859.5 50.1 860.4 50.0 861.3 50.0 862.1 50.0 863.1 50.1 864.0 50.3 865.0 50.5 865.6 50.7M876.5 55.0 876.7 55.1 876.9 55.2M887.9 61.6 888.0 61.6 888.9 62.0 889.9 62.4 890.8 62.8 891.8 63.2 892.7 63.6 893.7 63.8 894.6 64.1 895.5 64.2 896.4 64.3 897.3 64.3 898.1 64.1 899.0 63.9 899.8 63.6 900.6 63.3 901.5 62.8 902.5 62.3 903.0 62.0M913.3 55.1 913.6 54.9 913.7 54.8M924.4 48.0 924.4 47.9 925.4 47.5 926.4 47.1 927.3 46.7 928.3 46.3 929.2 45.9 930.2 45.6 931.1 45.2 932.1 44.9 933.0 44.6 934.0 44.3 934.9 44.0 935.8 43.8 936.8 43.5 937.7 43.2 938.6 43.0 939.4 42.7 939.6 42.7M951.8 40.0 952.0 40.0 952.2 40.0M964.3 39.2 964.3 39.2 965.3 39.2 966.3 39.3 967.2 39.3 968.2 39.5 969.2 39.6 970.2 39.7 971.2 39.9 972.2 40.1 973.2 40.2 974.2 40.4 975.2 40.6 976.2 40.8 977.1 41.0 978.1 41.2 979.0 41.4 979.4 41.5M991.0 44.1 991.2 44.2 991.4 44.3M1001.9 51.5 1002.1 51.7 1002.7 52.4 1003.4 53.1 1004.0 53.9 1004.6 54.7 1005.1 55.5 1005.7 56.3 1006.2 57.2 1006.8 58.0 1007.3 58.9 1007.8 59.8 1008.3 60.7 1008.8 61.6 1009.2 62.5 1009.7 63.4 1010.1 64.2 1010.5 65.1 1010.6 65.3M1014.5 77.4 1014.6 77.6 1014.7 77.8M1017.1 90.0 1017.1 90.2 1017.3 91.1 1017.5 92.1 1017.7 93.0 1017.9 94.0 1018.1 95.0 1018.4 95.9 1018.6 96.9 1018.8 97.9 1019.0 98.9 1019.2 99.9 1019.5 100.9 1019.7 101.9 1019.9 102.8 1020.1 103.8 1020.2 104.7 1020.4 105.5M1022.2 117.6 1022.2 117.8 1022.2 118.0M1024.5 129.5 1024.6 129.8 1024.8 130.8 1025.0 131.7 1025.2 132.6 1025.5 133.6 1025.7 134.5 1026.0 135.5 1026.2 136.5 1026.5 137.5 1026.7 138.5 1027.0 139.4 1027.2 140.4 1027.5 141.3 1027.8 142.3 1028.1 143.2 1028.3 144.0M1032.8 154.4 1032.8 154.5 1033.0 154.5 1033.2 154.5 1033.2 154.4M1037.0 142.8 1037.1 142.5 1037.3 141.5 1037.6 140.6 1037.8 139.7 1038.0 138.8 1038.3 137.9 1038.5 137.0 1038.7 136.0 1038.9 135.1 1039.1 134.1 1039.3 133.2 1039.5 132.2 1039.7 131.2 1039.9 130.2 1040.1 129.1 1040.3 128.1 1040.4 127.5M1042.4 115.5 1042.4 115.2 1042.4 115.0M1044.5 102.6 1044.6 102.3 1044.8 101.4 1045.1 100.3 1045.3 99.3 1045.6 98.3 1045.8 97.3 1046.1 96.3 1046.4 95.4 1046.6 94.4 1046.9 93.5 1047.2 92.6 1047.5 91.7 1047.7 90.8 1048.0 89.9 1048.3 89.0 1048.5 88.1 1048.8 87.2 1048.8 87.2M1052.1 75.3 1052.2 75.1 1052.3 74.9M1057.6 63.7 1057.7 63.5 1058.2 62.7 1058.8 61.9 1059.4 61.1 1060.0 60.2 1060.6 59.4 1061.2 58.6 1061.9 57.7 1062.6 56.9 1063.3 56.2 1064.0 55.4 1064.7 54.7 1065.4 54.1 1066.2 53.4 1066.9 52.9 1067.7 52.3 1068.0 52.1M1079.6 48.5 1079.8 48.4 1080.0 48.3M1092.1 46.7 1092.3 46.7 1093.3 46.7 1094.2 46.8 1095.1 46.9 1096.0 47.0 1097.0 47.1 1098.0 47.3 1099.0 47.4 1100.1 47.6 1100.9 47.7 1101.8 47.9 1102.7 48.1 1103.7 48.3 1104.6 48.5 1105.6 48.7 1106.6 48.9 1107.5 49.1M1119.1 52.5 1119.3 52.6 1119.5 52.7M1129.8 58.2 1130.1 58.4 1130.9 58.9 1131.7 59.5 1132.5 60.0 1133.3 60.6 1134.2 61.2 1135.0 61.8 1135.8 62.4 1136.6 63.0 1137.4 63.7 1138.2 64.3 1139.0 65.0 1139.7 65.6 1140.5 66.3 1141.1 66.9 1141.6 67.4M1148.4 76.6 1148.5 76.8 1148.6 77.0M1155.0 88.1 1155.2 88.5 1155.7 89.3 1156.1 90.2 1156.6 91.0 1157.1 91.9 1157.6 92.8 1158.1 93.6 1158.6 94.5 1159.1 95.4 1159.6 96.3 1160.1 97.2 1160.6 98.1 1161.1 99.0 1161.6 99.9 1162.1 100.7 1162.5 101.6 1162.9 102.2M1168.4 113.4 1168.6 113.6 1168.8 113.8M1179.3 121.9 1179.5 121.9 1180.3 121.9 1181.0 121.7 1181.7 121.4 1182.4 121.0 1183.1 120.4 1183.8 119.7 1184.5 118.9 1185.1 118.1 1185.8 117.2 1186.4 116.3 1187.1 115.3 1187.7 114.3 1188.3 113.3 1188.9 112.4 1189.5 111.5 1190.0 110.6 1190.6 109.8 1190.6 109.7M1196.9 97.9 1197.0 97.7 1197.1 97.5M1203.8 87.6 1204.0 87.3 1204.6 86.6 1205.2 85.8 1205.8 85.0 1206.4 84.2 1207.0 83.4 1207.7 82.7 1208.3 81.9 1209.0 81.1 1209.7 80.3 1210.3 79.5 1211.0 78.8 1211.7 78.1 1212.4 77.3 1213.0 76.7 1213.7 76.0M1222.7 68.6 1222.9 68.5 1223.1 68.4M1235.1 64.3 1235.4 64.3 1236.3 64.2 1237.3 64.1 1238.2 64.1 1239.2 64.1 1240.2 64.1 1241.2 64.1 1242.3 64.2 1243.3 64.3 1244.3 64.4 1245.4 64.5 1246.4 64.6 1247.4 64.7 1248.4 64.8 1249.4 64.9 1250.3 65.0 1251.2 65.0M1263.7 66.0 1263.9 66.0 1264.1 66.0M1276.4 68.8 1276.8 68.9 1277.7 69.2 1278.6 69.5 1279.5 69.9 1280.4 70.2 1281.3 70.6 1282.3 71.0 1283.2 71.4 1284.2 71.7 1285.1 72.1 1286.1 72.5 1287.0 72.9 1288.0 73.3 1288.9 73.7 1289.8 74.1 1290.6 74.4 1291.3 74.7M1302.9 79.2 1303.1 79.3 1303.3 79.4M1313.7 84.9 1313.9 85.0 1314.7 85.5 1315.5 86.1 1316.3 86.7 1317.1 87.3 1317.8 87.8 1318.6 88.4 1319.4 89.0 1320.1 89.6 1320.9 90.3 1321.7 90.9 1322.6 91.5 1323.3 92.0 1324.1 92.5 1324.9 93.0 1325.7 93.6 1325.8 93.6M1335.4 100.0 1335.6 100.2 1335.8 100.4M1344.9 109.4 1345.1 109.5 1345.7 110.3 1346.4 111.0 1347.0 111.8 1347.6 112.5 1348.3 113.3 1348.9 114.1 1349.5 114.9 1350.2 115.7 1350.8 116.5 1351.4 117.3 1352.0 118.1 1352.6 118.9 1353.2 119.6 1353.9 120.4 1354.5 121.2 1355.1 121.9 1355.2 122.0M1363.7 131.4 1363.8 131.6 1363.9 131.8M1370.3 142.5 1370.5 142.9 1371.0 143.7 1371.4 144.6 1371.9 145.5 1372.4 146.4 1372.9 147.3 1373.4 148.2 1373.9 149.1 1374.3 150.1 1374.8 151.0 1375.3 151.9 1375.7 152.8 1376.2 153.8 1376.6 154.7 1377.0 155.6 1377.4 156.4 1377.5 156.7M1381.1 168.4 1381.2 168.6 1381.3 168.8M1385.2 180.7 1385.3 181.1 1385.7 182.0 1386.0 182.9 1386.4 183.8 1386.8 184.7 1387.2 185.6 1387.6 186.5 1388.0 187.4 1388.5 188.4 1388.9 189.3 1389.3 190.2 1389.7 191.1 1390.1 192.0 1390.5 192.9 1390.9 193.8 1391.3 194.7 1391.5 195.3M1394.1 207.4 1394.2 207.6 1394.3 207.8M1397.2 219.7 1397.2 219.7 1397.5 220.7 1397.8 221.6 1398.0 222.6 1398.3 223.5 1398.6 224.5 1398.8 225.5 1399.1 226.4 1399.4 227.4 1399.7 228.4 1400.0 229.4 1400.3 230.3 1400.6 231.3 1400.8 232.2 1401.1 233.2 1401.3 234.1 1401.5 234.7M1404.0 246.5 1404.0 246.7 1404.0 246.9M1406.2 259.5 1406.2 259.7 1406.4 260.6 1406.6 261.6 1406.8 262.5 1407.0 263.4 1407.2 264.4 1407.4 265.4 1407.6 266.3 1407.8 267.3 1408.0 268.3 1408.2 269.2 1408.4 270.2 1408.6 271.1 1408.8 272.1 1409.0 273.0 1409.2 274.0 1409.4 274.9 1409.5 275.4M1411.6 287.8 1411.6 288.0 1411.6 288.2M1413.7 300.3 1413.7 300.5 1413.9 301.5 1414.0 302.4 1414.1 303.4 1414.3 304.4 1414.4 305.4 1414.5 306.4 1414.7 307.4 1414.8 308.5 1414.9 309.5 1415.0 310.5 1415.2 311.5 1415.3 312.5 1415.5 313.4 1415.6 314.4 1415.7 315.3 1415.8 315.8M1418.4 327.6 1418.4 327.9 1418.5 328.1M1420.4 340.5 1420.4 340.6 1420.6 341.7 1420.7 342.7 1420.9 343.8 1421.0 344.8 1421.2 345.9 1421.3 347.0 1421.5 348.1 1421.6 349.1 1421.8 350.2 1421.9 351.3 1422.1 352.3 1422.2 353.4 1422.3 354.3 1422.4 355.2 1422.6 356.2 1422.6 356.3M1424.0 368.6 1424.0 368.8 1424.1 369.1M1425.4 381.3 1425.4 381.4 1425.5 382.3 1425.6 383.3 1425.7 384.3 1425.9 385.3 1426.0 386.3 1426.1 387.2 1426.2 388.2 1426.3 389.2 1426.4 390.2 1426.6 391.2 1426.7 392.2 1426.8 393.2 1426.9 394.2 1427.0 395.2 1427.2 396.2 1427.2 396.9M1428.7 408.9 1428.8 409.1 1428.8 409.3M1430.4 421.7 1430.4 421.8 1430.5 422.8 1430.7 423.8 1430.8 424.8 1430.9 425.8 1431.1 426.8 1431.2 427.8 1431.4 428.8 1431.5 429.8 1431.6 430.8 1431.8 431.8 1431.9 432.8 1432.0 433.8 1432.2 434.8 1432.3 435.8 1432.5 436.7 1432.5 437.3M1434.2 449.5 1434.2 449.7 1434.2 449.9M1435.7 462.2 1435.7 462.4 1435.8 463.4 1435.9 464.3 1436.0 465.3 1436.1 466.2 1436.2 467.2 1436.3 468.2 1436.4 469.2 1436.5 470.2 1436.6 471.2 1436.7 472.2 1436.8 473.2 1436.9 474.2 1437.0 475.1 1437.1 476.1 1437.2 477.0 1437.3 477.8M1438.4 489.9 1438.4 490.2 1438.4 490.4M1439.6 502.8 1439.6 503.1 1439.7 504.2 1439.8 505.3 1439.9 506.3 1440.1 507.4 1440.2 508.4 1440.3 509.4 1440.4 510.4 1440.5 511.4 1440.6 512.4 1440.7 513.4 1440.9 514.4 1441.0 515.3 1441.1 516.3 1441.2 517.2 1441.3 518.1 1441.3 518.5M1442.6 530.6 1442.6 530.7 1442.6 531.1" stroke="#d6282e" stroke-width="3"/>
<path d="M183.5 1045 C183.5 1040.8 183.5 1032.5 183.5 1020 C183.6 983 184 871.6 184.5 800 C185 731.7 185.7 660.7 186.5 600 C187.2 549.2 188.2 508.9 188.7 460 C189.3 406.1 189.4 337.7 189.7 290 C189.9 255.3 190.1 228.6 190.3 200 C190.5 173.9 190.6 146.3 190.9 125 C191.1 109.1 191.4 96.1 191.7 83.5 C191.9 72.9 191.9 61.9 192.5 54.2 C192.9 49.1 193.1 44.3 194.2 41.7 C194.8 40.3 195.6 38.8 196.3 38.8 C197.3 38.9 198.5 44.7 199.6 44.6 C201.1 44.5 202.1 34.5 204.2 32.9 C205.4 32 207.2 31.9 208.4 32.5 C210.2 33.4 211 39.9 212.6 40 C214.1 40.1 216.1 33.4 217.6 33.4 C218.8 33.4 220 35.3 220.9 37.5 C222.9 42.5 222.5 65.1 223.5 65.1 C224.3 65.1 225.1 49.2 226 49.2 C227 49.2 228.3 69.3 229.3 69.3 C230.6 69.3 230.1 43.2 232.6 37.5 C233.7 35 235.5 32.8 236.8 32.9 C238.3 33 239.5 39.1 241 39.2 C242.5 39.3 244.4 33.6 246 33.4 C247.2 33.3 248.5 34.4 249.4 35.9 C251 38.7 250.7 50.9 251.4 50.9 C252.1 50.9 251.6 38.9 253.5 35.9 C254.7 34 257.1 32.4 258.5 32.5 C259.5 32.6 260.3 35.1 261.1 35 C262 34.9 262.1 32.1 263.6 31.3 C266.7 29.7 277.6 27.8 281.5 31.5 C287.6 37.3 283.4 76 284.2 76 C285 76 283.3 34.6 286.5 31.5 C287.3 30.7 288.7 30.8 289.5 31.5 C291.9 33.7 291 58 291.6 58 C292.2 58 292.7 33 293.3 33 C294 33 294.8 75.6 295.5 75.6 C296.2 75.6 288.9 39.7 297.5 31.5 C308.2 21.2 358.3 24.5 367 31.5 C370.9 34.6 369.1 39.8 370 45 C371.2 52.1 372 70.1 373 70.1 C374 70.1 374.7 53.5 376 48 C376.8 44.6 377.9 41.6 378.9 40 C379.4 39.2 379.9 38.3 380.6 38.4 C381.9 38.5 384.1 42.1 385.6 45 C387.9 49.5 389.1 63.1 391.4 63.4 C393.2 63.6 395.5 55.3 397.3 53.4 C398.2 52.4 398.9 52.4 400 51.7 C401.9 50.6 405.2 47.4 407.5 47.6 C409.7 47.8 411.4 51.3 413.4 52.6 C415.1 53.7 416.8 54 418.4 55.1 C420.1 56.2 422 59.7 423.4 59.3 C425.3 58.8 426 52 427.6 48.4 C429.3 44.7 430.7 40 433.4 37.5 C435.8 35.2 439.7 33.5 442.6 33.4 C445.2 33.3 447.8 34.4 450.1 35.9 C452.6 37.6 454.6 40.6 456.8 43.4 C459.3 46.6 461.8 53.9 464.3 54.2 C466.2 54.5 468 50.4 470.2 49.2 C472.3 48.1 474.7 46.7 476.9 47.2 C479.7 47.8 482.9 51.1 485.2 54.2 C487.9 57.9 489.5 63.3 491.1 68.5 C493 74.5 494.1 80.8 495.3 88.5 C496.8 98.9 497.8 113.3 498.6 125.3 C499.4 136.7 499.9 147 500.3 158.7 C500.8 171.7 500.9 188 501.3 200 C501.6 209.4 501.9 215.3 502.3 225 C502.8 238.5 503.5 255.7 504 273.5 C504.7 295.5 505.4 324.6 505.9 347.1 C506.3 366.2 506.4 379.2 506.8 400 C507.4 430.1 508.5 475.4 509.5 510.3 C510.4 541.7 511.3 573.7 512.3 600 C513.1 620.6 514 637.6 514.9 655.1 C515.8 671.1 516.6 693.2 517.7 701 C518.1 703.7 518.4 706.5 518.9 706.5 C519.7 706.5 521.1 698.3 522.2 691.8 C524.2 679.3 526.2 653.2 527.8 636.7 C529.1 623.2 530.5 614.9 531.4 600 C532.8 576.7 532.7 541.7 533.4 510.3 C534.2 475.4 535.6 430.1 536.2 400 C536.6 379.2 536.7 364.2 537.1 347.1 C537.5 330.9 537.9 315.6 538.4 300 C538.9 284.5 539.3 268.6 540.1 253.6 C540.9 239.5 542 224.7 543.1 212.6 C544 203 544.7 193.5 546 186.9 C546.8 182.6 547.7 178.6 548.9 176.4 C549.5 175.2 550.2 174 551 174 C551.9 174 553.3 175.8 554.2 177.5 C555.8 180.5 556.7 186.1 557.7 191.6 C559 199.1 559.7 209.3 560.6 218.5 C561.5 228 562.3 236.6 563 247.7 C563.9 262.6 564.5 283 565.3 300 C566 316.1 566.8 329.7 567.4 347.1 C568.2 368.8 568.8 394.4 569.3 420 C569.8 448.5 569.6 480.3 570.2 510.3 C570.8 540.3 572.1 568.6 572.8 600 C573.6 634.8 574 673.5 574.6 710.2 C575.2 746.8 575.8 787.8 576.4 819.9 C576.9 844.9 577.4 863.7 578 886.8 C578.6 911.5 579 944.9 579.9 963.7 C580.4 974.6 580.8 989.6 581.8 989.6 C583.1 989.6 586.2 960.2 587.6 944.5 C589.1 927.4 589.2 900 590.4 890.7 C590.8 887.4 591.2 884 591.8 884 C592.7 884 594.3 890.7 595.3 896.4 C597.5 908.5 598.7 936.9 600.1 954.1 C601.2 967.9 601.7 991.5 602.9 991.5 C604 991.5 605.7 975.3 606.8 963.7 C608.6 944.5 609.5 912.4 610.6 886.8 C611.7 861.2 612.7 837.3 613.5 810 C614.5 778.9 615.1 744.3 615.9 710.2 C616.8 674.4 617.7 634.8 618.7 600 C619.6 568.6 620.9 541.7 621.7 510.3 C622.6 475.4 622.5 430.1 623.5 400 C624.2 379.2 625.3 366.2 626.3 347.1 C627.5 324.6 628.9 295.5 630 273.5 C630.9 255.7 631.4 241.2 632.5 225 C633.6 208.6 635.2 190.7 636.7 175.4 C638 162.2 639.1 150.3 640.9 138.7 C642.5 128.1 644.2 116.5 646.7 108.6 C648.4 103.1 650.2 98.4 652.6 95.2 C654.3 92.9 656.4 90.3 658.4 90.2 C660.5 90.1 663.2 92.7 665.1 95.2 C668 98.9 669.8 105.4 671.8 111.9 C674.4 120.4 676.5 131.3 678.5 142 C680.7 153.9 682.2 169.4 684 180 C685.3 187.7 686.1 194.4 688 200 C689.5 204.4 691.3 211 693.4 211.4 C695 211.7 696.8 208.4 698.7 206.8 C700.8 205.1 703.2 201.5 705.4 201.4 C707.3 201.3 709 203.5 710.8 204.7 C712.6 205.9 714.3 208.9 716.1 208.8 C717.9 208.7 720 206.2 721.5 204.1 C723.4 201.4 724.1 197.2 725.5 193.4 C727.1 189.2 729.5 185.1 730.8 180 C732.4 173.8 732.8 166.6 733.7 158.7 C734.9 148.8 735.9 136.4 737 125.3 C738.1 114.2 738.5 102.5 740.3 91.9 C742 82 743.7 70.6 747 63.4 C749.3 58.4 751.9 54.3 755.4 51.7 C758.7 49.2 763.2 47.6 767.1 47.6 C771 47.6 775.4 49.6 778.8 51.7 C782.1 53.8 784.8 57.4 787.1 60.1 C789 62.3 790.2 64.7 792 66.5 C793.6 68.1 795.5 70.3 797.2 70.4 C798.8 70.5 800.6 68.8 802 67.5 C803.4 66.2 804.1 64.6 805.5 62.5 C807.7 59 810.6 52.4 813.9 48.4 C816.9 44.8 820 41.4 823.9 39.2 C827.8 36.9 832.8 35.8 837.3 35 C841.5 34.2 845.5 34.2 850 34.2 C855.2 34.2 861.2 34.3 866.7 35 C872.3 35.7 878.2 36.9 883.4 38.4 C888.2 39.8 892.6 41.2 896.8 43.4 C901 45.6 904.7 48.6 908.5 51.7 C912.5 55 916.2 60 920.2 62.6 C923.5 64.7 926.3 66.5 930.2 66.8 C935.3 67.2 942.8 62.3 948.6 62.6 C953.9 62.9 958.8 65.9 963.7 67.6 C968.3 69.2 972.8 72.2 977 72.6 C980.5 73 984.2 72.9 987.1 71 C990.6 68.7 992.6 62.5 995.4 58.4 C998.2 54.4 1000.3 50.1 1003.8 46.7 C1007.5 43.1 1012.2 39.7 1017.1 37.5 C1022.2 35.2 1027.7 34.4 1033.9 33.4 C1041.4 32.2 1050.9 31.7 1058.9 31.4 C1066.2 31.1 1072.7 31.2 1080 31.4 C1088 31.6 1096.8 31.9 1105.1 32.5 C1113.5 33.1 1121.8 33.6 1130.1 35 C1138.5 36.4 1146.9 38.4 1155.2 40.9 C1163.6 43.4 1172.8 47.5 1180.3 50 C1186.4 52 1192.1 54.2 1197 55.1 C1200.7 55.8 1203 55.9 1207 55.9 C1213.2 55.9 1222.5 54.5 1230.4 54.2 C1238.6 53.9 1247.2 53.5 1255.5 54.2 C1263.9 54.9 1273.2 56.3 1280.6 58.4 C1286.8 60.2 1292.4 62.3 1297.3 65.1 C1301.7 67.6 1305 70.4 1309 74 C1314 78.5 1320 84.3 1324.7 90.4 C1329.7 96.9 1334 104 1337.8 112.1 C1342.1 121.2 1345.4 132.1 1348.6 142.5 C1351.9 153.1 1354.8 163.8 1357.3 175.1 C1359.9 187 1361.7 199.2 1363.8 212 C1366.1 225.9 1368.3 240.9 1370.3 255.4 C1372.3 269.9 1374.1 283.5 1375.8 298.8 C1377.7 315.9 1378.8 335.3 1380.8 353.4 C1382.7 371.3 1385.3 389.1 1387.5 406.9 C1389.7 424.7 1391.9 442.5 1394.1 460.3 C1396.3 478.1 1398.4 497 1400.8 513.8 C1402.9 528.9 1405.3 544.7 1407.5 556.5 C1409 564.9 1410.3 572.2 1412 578 C1413.2 582.2 1414.4 586.2 1416 588.5 C1417 590 1418.3 591.4 1419.5 591.5 C1420.6 591.6 1421.8 590.3 1423 589 C1425 586.7 1426.9 582.1 1428.9 577.9 C1431.5 572.5 1434.5 564.9 1436.9 559.2 C1438.9 554.4 1441.3 548.1 1442.2 545.9" stroke="#1f1b1c" stroke-width="3"/>
</g>
<g stroke="#231f20" stroke-width="3" fill="none" stroke-linecap="square">
<rect x="182.5" y="29.5" width="1260" height="1016"/>
<path d="M227.5 1045.5 V1034.5 M337.5 1045.5 V1024.5 M448.5 1045.5 V1034.5 M558.5 1045.5 V1024.5 M669.5 1045.5 V1034.5 M779.5 1045.5 V1024.5 M890.5 1045.5 V1034.5 M1000.5 1045.5 V1024.5 M1111.5 1045.5 V1034.5 M1221.5 1045.5 V1024.5 M1332.5 1045.5 V1034.5 M1442.5 1045.5 V1024.5 M182.5 943.5 H193.5 M182.5 842.5 H203.5 M182.5 740.5 H193.5 M182.5 639.5 H203.5 M182.5 537.5 H193.5 M182.5 435.5 H203.5 M182.5 334.5 H193.5 M182.5 232.5 H203.5 M182.5 131.5 H193.5" stroke-linecap="butt"/>
</g>
<g font-family="Liberation Serif, serif" font-size="55.5" fill="#231f20">
<text x="162.7" y="1062.3" text-anchor="end">0</text>
<text x="162.7" y="859.1" text-anchor="end">20</text>
<text x="162.7" y="655.9" text-anchor="end">40</text>
<text x="162.7" y="452.7" text-anchor="end">60</text>
<text x="162.7" y="249.5" text-anchor="end">80</text>
<text x="162.7" y="46.3" text-anchor="end">100</text>
<text x="337.5" y="1105" text-anchor="middle">4</text>
<text x="558.5" y="1105" text-anchor="middle">6</text>
<text x="779.5" y="1105" text-anchor="middle">8</text>
<text x="1000.5" y="1105" text-anchor="middle">10</text>
<text x="1221.5" y="1105" text-anchor="middle">12</text>
<text x="1442.5" y="1105" text-anchor="middle">14</text>
<text x="812.9" y="1179.7" text-anchor="middle">Wavelength/μm</text>
<text transform="translate(50.7 537.9) rotate(-90)" text-anchor="middle">Reflectance/(%)</text>
<text x="1172" y="206.3">Design</text>
<text x="1172" y="271.4">Test</text>
</g>
<path d="M1053.5 191.5 H1153.5" stroke="#d6282e" stroke-width="3" stroke-dasharray="18.8 9.2 3.5 9.3" fill="none"/>
<path d="M1054 256.5 H1162" stroke="#1f1b1c" stroke-width="3" fill="none"/>
<rect x="795.5" y="433.5" width="494" height="420" fill="#fff"/>
<g clip-path="url(#ci)" fill="none" stroke-linejoin="round" stroke-linecap="round">
<path d="M795.2 772 C795.5 770.6 796.4 767.4 797.2 763.7 C798.7 756.6 800.9 742.7 803 732 C805.1 721 807.4 709.4 809.7 698.6 C811.9 688.3 814 678.4 816.4 668.5 C818.7 658.9 821.2 648.9 823.9 640.1 C826.3 632.3 828.9 624.4 831.4 618.4 C833.3 613.9 834.8 610.3 837.1 606.9 C839.2 603.7 841.8 600.3 844.6 598.6 C846.9 597.2 849.7 596.6 852.2 596.5 C854.7 596.4 857.6 597.2 859.7 598 C861.4 598.6 862.6 599.8 864 600.3 C865.1 600.7 866.2 601.3 867.2 601.1 C868.3 600.9 869.3 600.1 870.2 599.2 C871.3 598.1 872.3 596.5 873.2 594.5 C874.6 591.6 875.9 587.1 877 582.9 C878.2 578.2 879 572.9 880 567.8 C881 562.4 882.1 557.1 883 551.3 C884.1 544.7 885 536.9 886 530.2 C887 524 887.9 518.1 889 512.2 C890.1 506.5 891.2 500.8 892.7 495.6 C894 490.8 895.4 486.2 897.3 482.1 C899 478.3 900.9 474.9 903.3 471.6 C905.8 468.1 909 464.6 912.3 461.8 C915.5 459.1 919.5 457 922.8 455 C925.6 453.3 927.9 451.8 930.8 450.5 C934.1 449 937.9 447.5 941.7 446.7 C945.8 445.8 950.6 445.6 954.7 445.6 C958.5 445.6 962.1 446.1 965.5 446.7 C968.6 447.2 971.2 448.2 974.2 448.8 C977.4 449.5 980.7 450.5 984 450.5 C987.2 450.5 990.4 449.5 993.7 448.8 C997.2 448.1 1001.3 446.4 1004.6 446.1 C1007.3 445.9 1009.5 446.4 1012.1 446.7 C1014.9 447 1018 447.8 1020.8 447.8 C1023.4 447.8 1025.8 447 1028.4 446.7 C1031.2 446.4 1034.3 445.9 1037.1 445.9 C1039.7 445.9 1042.2 446.4 1044.7 446.7 C1047.2 447 1049.8 447.9 1052.2 447.8 C1054.5 447.7 1056.4 446.9 1058.8 446.1 C1062 445 1066 442.6 1069.6 441.3 C1073.1 440.1 1076.5 439.3 1080 438.6 C1083.5 437.9 1086.8 437.3 1090.8 436.9 C1095.7 436.4 1101 436.1 1107.1 435.8 C1115 435.5 1124.8 435.3 1134.2 435.3 C1144.5 435.3 1157 435.6 1166.7 435.8 C1174.7 436 1181.7 435.9 1188.4 436.4 C1194.2 436.9 1199.8 437.7 1204.7 438.6 C1208.7 439.4 1211.9 440.1 1215.5 441.3 C1219.2 442.5 1222.9 444.1 1226.3 446 C1229.7 447.9 1232.5 449.9 1236 452.5 C1240.4 455.8 1246.3 460.4 1250.3 464.5 C1253.8 468 1256.6 471.3 1259.2 475.3 C1261.9 479.6 1263.9 484.3 1266 489.6 C1268.5 496 1270.8 503.7 1272.8 511.2 C1274.9 519.2 1276.6 528.2 1278.3 536.3 C1279.9 543.8 1281.3 550.4 1282.6 557.9 C1284 565.9 1285.2 574.3 1286.2 583 C1287.3 592.2 1288.1 603.2 1288.9 611.7 C1289.5 618.5 1290.2 626.9 1290.5 630" stroke="#5f5d5e" stroke-width="3.2"/>
<path d="M797.2 781.4 797.2 781.8 797.4 782.8 797.4 783.8 797.5 784.8 797.6 785.8 797.7 786.8 797.8 787.8 797.8 788.7 797.9 789.7 798.0 790.7 798.0 791.6 798.1 792.6 798.1 793.6 798.2 794.6 798.3 795.7 798.3 796.2M799.2 813.2 799.2 813.6 799.2 814.0M801.0 831.1 801.0 831.1 801.1 832.1 801.2 833.1 801.4 834.1 801.5 835.1 801.6 836.1 801.8 837.1 801.9 838.1 802.0 839.1 802.2 840.1 802.3 841.0 802.4 842.0 802.6 843.0 802.7 843.9 802.8 844.9 802.9 845.7M862.5 843.9 862.6 843.5 862.6 842.5 862.7 841.5 862.8 840.5 862.8 839.6 862.9 838.6 862.9 837.7 863.0 836.7 863.0 835.7 863.1 834.8 863.2 833.8 863.2 832.8 863.3 831.8 863.4 830.8 863.5 829.8 863.5 829.2M865.2 812.2 865.3 811.8 865.4 811.4M868.1 794.6 868.1 794.4 868.3 793.4 868.5 792.4 868.7 791.5 868.9 790.5 869.1 789.6 869.3 788.7 869.5 787.7 869.7 786.8 869.9 785.9 870.0 785.0 870.2 784.0 870.4 783.1 870.6 782.1 870.8 781.1 871.0 780.2M873.5 763.5 873.6 763.1 873.7 762.7M876.4 745.8 876.4 745.7 876.6 744.7 876.8 743.7 877.0 742.8 877.3 741.8 877.5 740.9 877.8 740.0 878.0 739.0 878.3 738.1 878.5 737.2 878.8 736.2 879.0 735.3 879.2 734.4 879.5 733.4 879.7 732.5 879.9 731.5M882.7 714.8 882.8 714.4 882.9 714.0M885.5 697.3 885.6 697.0 885.8 696.0 886.0 695.0 886.3 694.1 886.5 693.1 886.7 692.2 887.0 691.3 887.3 690.3 887.5 689.4 887.8 688.5 888.0 687.5 888.2 686.6 888.5 685.7 888.7 684.7 888.9 683.8 889.0 683.1M891.1 666.4 891.2 666.0 891.3 665.6M894.9 648.6 895.0 648.2 895.3 647.3 895.5 646.3 895.9 645.4 896.2 644.5 896.5 643.6 896.8 642.7 897.2 641.8 897.5 640.8 897.8 639.9 898.1 639.0 898.4 638.1 898.7 637.1 899.0 636.2 899.3 635.2 899.5 634.3M902.5 617.3 902.6 616.9 902.7 616.5M907.0 600.8 907.1 600.4 907.4 599.5 907.7 598.5 908.0 597.6 908.3 596.6 908.5 595.7 908.8 594.7 909.1 593.8 909.4 592.9 909.7 592.0 910.0 591.1 910.3 590.1 910.6 589.2 911.0 588.3 911.3 587.4M918.1 572.9 918.1 572.9 918.4 572.6 918.7 572.3M934.8 567.6 934.9 567.6 935.7 568.0 936.6 568.5 937.5 569.0 938.4 569.4 939.2 569.9 940.0 570.3 940.9 570.8 941.7 571.3 942.6 571.8 943.4 572.3 944.2 572.6 945.0 572.8 945.9 572.8 946.7 572.7 947.6 572.5 948.5 572.1 948.6 572.1M963.6 563.2 963.6 563.1 964.0 563.0 964.4 562.9M980.0 560.5 980.3 560.3 981.1 559.7 981.9 559.0 982.6 558.4 983.3 557.7 984.0 557.1 984.6 556.4 985.2 555.8 985.8 555.0 986.4 554.3 987.1 553.5 987.7 552.6 988.3 551.9 988.9 551.3 989.4 550.6 989.4 550.6M998.8 537.9 999.0 537.5 999.2 537.1M1005.9 521.5 1005.9 521.4 1006.3 520.5 1006.7 519.6 1007.0 518.7 1007.4 517.7 1007.7 516.8 1008.0 515.9 1008.4 515.0 1008.7 514.1 1009.0 513.2 1009.3 512.3 1009.7 511.4 1010.0 510.5 1010.3 509.6 1010.7 508.7 1011.0 507.8 1011.0 507.7M1017.2 492.0 1017.4 491.6 1017.6 491.2M1024.0 475.0 1024.1 474.9 1024.7 474.1 1025.3 473.3 1025.9 472.5 1026.6 471.8 1027.3 471.1 1028.0 470.5 1028.7 469.8 1029.4 469.2 1030.2 468.5 1030.9 467.9 1031.7 467.3 1032.5 466.7 1033.4 466.0 1034.2 465.4 1034.9 464.9 1035.0 464.8M1049.7 455.6 1050.1 455.4 1050.5 455.2M1067.2 451.4 1067.3 451.4 1068.2 451.1 1069.2 450.9 1070.1 450.7 1071.0 450.5 1072.0 450.3 1072.9 450.0 1073.8 449.8 1074.7 449.6 1075.6 449.4 1076.6 449.2 1077.5 448.9 1078.5 448.7 1079.5 448.4 1080.4 448.2 1081.3 448.0 1081.5 447.9M1098.0 443.5 1098.4 443.4 1098.8 443.3M1115.8 441.8 1115.8 441.8 1116.8 441.8 1117.8 441.7 1118.8 441.7 1119.8 441.7 1120.7 441.6 1121.7 441.6 1122.6 441.6 1123.6 441.6 1124.6 441.6 1125.5 441.6 1126.5 441.7 1127.5 441.7 1128.4 441.7 1129.4 441.7 1130.4 441.8 1130.5 441.8M1147.4 443.4 1147.8 443.4 1148.2 443.4M1165.0 444.5 1165.1 444.5 1166.1 444.6 1167.1 444.6 1168.1 444.7 1169.1 444.8 1170.1 444.8 1171.0 444.9 1172.0 445.0 1173.0 445.0 1173.9 445.1 1174.9 445.2 1175.9 445.2 1176.9 445.3 1177.8 445.3 1178.8 445.3 1179.4 445.4M1196.1 445.4 1196.5 445.4 1196.9 445.4M1213.7 441.8 1213.9 441.8 1214.9 441.7 1215.9 441.6 1216.9 441.6 1217.9 441.5 1218.8 441.5 1219.8 441.4 1220.8 441.4 1221.8 441.4 1222.8 441.4 1223.7 441.5 1224.7 441.5 1225.7 441.5 1226.7 441.6 1227.6 441.7 1228.5 441.7M1245.4 444.3 1245.8 444.4 1246.2 444.5M1262.2 450.7 1262.4 450.8 1263.3 451.3 1264.3 451.8 1265.2 452.3 1266.2 452.8 1267.1 453.4 1268.0 453.9 1268.9 454.5 1269.8 455.0 1270.6 455.5 1271.4 455.9 1272.1 456.4 1272.8 456.8 1273.3 457.1 1274.1 457.6 1274.9 458.1" stroke="#d8304a" stroke-width="3"/>
</g>
<g stroke="#231f20" stroke-width="3" fill="none" stroke-linecap="square">
<rect x="795.5" y="433.5" width="494" height="420"/>
<path d="M878.5 853.5 V844.3 M960.5 853.5 V844.3 M1042.5 853.5 V844.3 M1124.5 853.5 V844.3 M1206.5 853.5 V844.3 M795.5 800.5 H804.9 M795.5 748.5 H804.9 M795.5 695.5 H804.9 M795.5 643.5 H804.9 M795.5 590.5 H804.9 M795.5 538.5 H804.9 M795.5 485.5 H804.9" stroke-linecap="butt"/>
</g>
<g font-family="Liberation Serif, serif" font-size="55.5" fill="#231f20">
<text x="776" y="869.9" text-anchor="end">20</text>
<text x="776" y="764.9" text-anchor="end">40</text>
<text x="776" y="659.9" text-anchor="end">60</text>
<text x="776" y="554.9" text-anchor="end">80</text>
<text x="776" y="449.9" text-anchor="end">100</text>
<text x="795.5" y="913" text-anchor="middle">0.9</text>
<text x="960.2" y="913" text-anchor="middle">1.0</text>
<text x="1124.8" y="913" text-anchor="middle">1.1</text>
<text x="1289.5" y="913" text-anchor="middle">1.2</text>
<text x="1042.2" y="981.5" text-anchor="middle">Wavelength/μm</text>
<text transform="translate(668.5 643) rotate(-90)" text-anchor="middle">Reflectance/(%)</text>
<text x="1102" y="739">Design</text>
<text x="1103" y="801">Test</text>
</g>
<path d="M1012.5 724.5 H1094.5" stroke="#5f5d5e" stroke-width="3" stroke-linecap="round" fill="none"/>
<path d="M1011.5 786.5 H1079" stroke="#d8304a" stroke-width="3" stroke-dasharray="17.8 14 3.9 14.1" fill="none"/>
</svg></body></html>
